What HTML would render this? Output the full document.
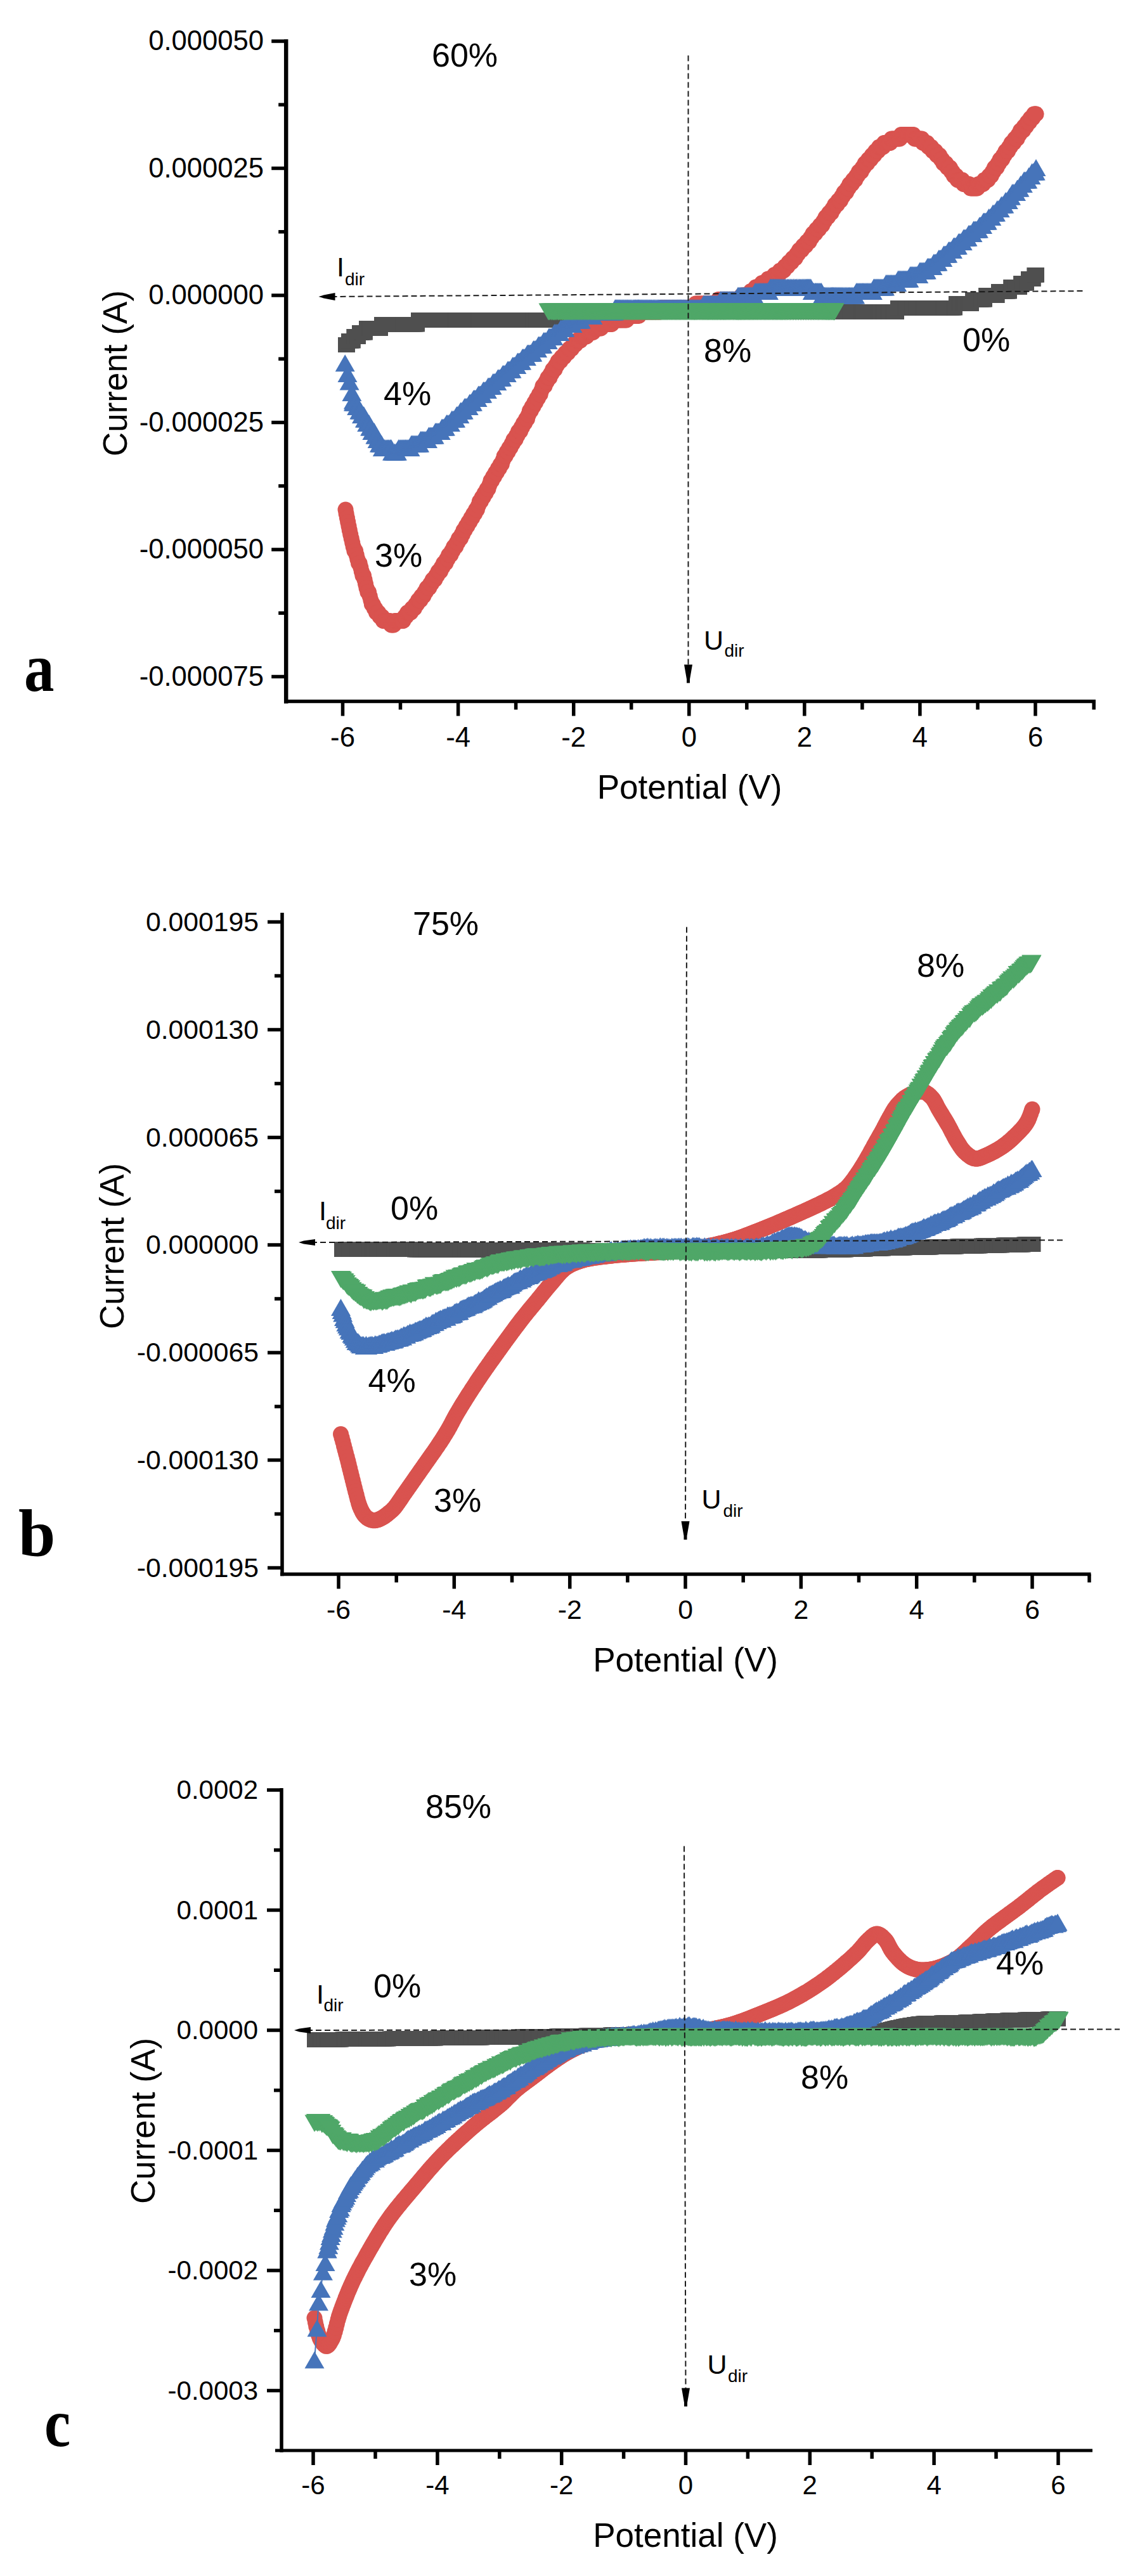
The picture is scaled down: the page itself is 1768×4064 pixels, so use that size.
<!DOCTYPE html>
<html lang="en"><head><meta charset="utf-8"><title>I-V curves</title>
<style>html,body{margin:0;padding:0;background:#fff}svg{display:block}text{fill:#000}</style></head><body>
<svg width="1768" height="4064" viewBox="0 0 1768 4064">
<defs>
<marker id="sq" markerUnits="userSpaceOnUse" markerWidth="24" markerHeight="24" refX="12" refY="12" orient="0"><rect width="24" height="24" fill="#4f4f4f"/></marker>
<marker id="ci" markerUnits="userSpaceOnUse" markerWidth="26" markerHeight="26" refX="13" refY="13" orient="0"><circle cx="13" cy="13" r="12.5" fill="#d9534f"/></marker>
<marker id="up" markerUnits="userSpaceOnUse" markerWidth="32" markerHeight="28" refX="16" refY="14" orient="0"><polygon points="16,0.5 31.5,27.5 0.5,27.5" fill="#4674ba"/></marker>
<marker id="dn" markerUnits="userSpaceOnUse" markerWidth="32" markerHeight="28" refX="16" refY="14" orient="0"><polygon points="0.5,0.5 31.5,0.5 16,27.5" fill="#4fa768"/></marker>
</defs>
<g>
<rect x="447.95" y="62" width="6.5" height="1047.75" fill="#000"/>
<rect x="448" y="1103.75" width="1280" height="5.5" fill="#000"/>
<rect x="428.2" y="62.25" width="23" height="5.5" fill="#000"/>
<text x="416" y="79.3" font-size="43.6" text-anchor="end" font-family='"Liberation Sans", sans-serif' font-weight="normal" >0.000050</text>
<rect x="428.2" y="262.75" width="23" height="5.5" fill="#000"/>
<text x="416" y="279.8" font-size="43.6" text-anchor="end" font-family='"Liberation Sans", sans-serif' font-weight="normal" >0.000025</text>
<rect x="428.2" y="463.25" width="23" height="5.5" fill="#000"/>
<text x="416" y="480.3" font-size="43.6" text-anchor="end" font-family='"Liberation Sans", sans-serif' font-weight="normal" >0.000000</text>
<rect x="428.2" y="663.75" width="23" height="5.5" fill="#000"/>
<text x="416" y="680.8" font-size="43.6" text-anchor="end" font-family='"Liberation Sans", sans-serif' font-weight="normal" >-0.000025</text>
<rect x="428.2" y="864.25" width="23" height="5.5" fill="#000"/>
<text x="416" y="881.3" font-size="43.6" text-anchor="end" font-family='"Liberation Sans", sans-serif' font-weight="normal" >-0.000050</text>
<rect x="428.2" y="1064.75" width="23" height="5.5" fill="#000"/>
<text x="416" y="1081.8" font-size="43.6" text-anchor="end" font-family='"Liberation Sans", sans-serif' font-weight="normal" >-0.000075</text>
<rect x="439.2" y="162.45" width="12" height="5.5" fill="#000"/>
<rect x="439.2" y="362.95" width="12" height="5.5" fill="#000"/>
<rect x="439.2" y="563.45" width="12" height="5.5" fill="#000"/>
<rect x="439.2" y="763.95" width="12" height="5.5" fill="#000"/>
<rect x="439.2" y="964.45" width="12" height="5.5" fill="#000"/>
<rect x="537.75" y="1106.5" width="5.5" height="23" fill="#000"/>
<text x="540.5" y="1177.5" font-size="43.6" text-anchor="middle" font-family='"Liberation Sans", sans-serif' font-weight="normal" >-6</text>
<rect x="719.85" y="1106.5" width="5.5" height="23" fill="#000"/>
<text x="722.6" y="1177.5" font-size="43.6" text-anchor="middle" font-family='"Liberation Sans", sans-serif' font-weight="normal" >-4</text>
<rect x="901.95" y="1106.5" width="5.5" height="23" fill="#000"/>
<text x="904.7" y="1177.5" font-size="43.6" text-anchor="middle" font-family='"Liberation Sans", sans-serif' font-weight="normal" >-2</text>
<rect x="1084.0" y="1106.5" width="5.5" height="23" fill="#000"/>
<text x="1086.75" y="1177.5" font-size="43.6" text-anchor="middle" font-family='"Liberation Sans", sans-serif' font-weight="normal" >0</text>
<rect x="1266.05" y="1106.5" width="5.5" height="23" fill="#000"/>
<text x="1268.8" y="1177.5" font-size="43.6" text-anchor="middle" font-family='"Liberation Sans", sans-serif' font-weight="normal" >2</text>
<rect x="1448.15" y="1106.5" width="5.5" height="23" fill="#000"/>
<text x="1450.9" y="1177.5" font-size="43.6" text-anchor="middle" font-family='"Liberation Sans", sans-serif' font-weight="normal" >4</text>
<rect x="1630.25" y="1106.5" width="5.5" height="23" fill="#000"/>
<text x="1633" y="1177.5" font-size="43.6" text-anchor="middle" font-family='"Liberation Sans", sans-serif' font-weight="normal" >6</text>
<rect x="628.75" y="1106.5" width="5.5" height="13" fill="#000"/>
<rect x="810.85" y="1106.5" width="5.5" height="13" fill="#000"/>
<rect x="992.95" y="1106.5" width="5.5" height="13" fill="#000"/>
<rect x="1175.05" y="1106.5" width="5.5" height="13" fill="#000"/>
<rect x="1357.15" y="1106.5" width="5.5" height="13" fill="#000"/>
<rect x="1539.25" y="1106.5" width="5.5" height="13" fill="#000"/>
<rect x="1722.45" y="1106.5" width="5.5" height="13" fill="#000"/>
<text x="1087.5" y="1260.0" font-size="53" text-anchor="middle" font-family='"Liberation Sans", sans-serif' font-weight="normal" >Potential (V)</text>
<text x="0" y="0" font-size="53" text-anchor="middle" font-family='"Liberation Sans", sans-serif' font-weight="normal" transform="translate(200,589) rotate(-90)">Current (A)</text>
<polyline points="544.5,544.0 546.1,544.0 548.1,544.0 549.7,537.5 551.9,537.5 553.5,537.5 555.1,537.5 556.8,537.5 558.3,531.0 560.0,531.0 561.6,531.0 563.4,531.0 565.1,531.0 566.9,524.5 568.6,524.5 570.3,524.5 572.1,524.5 573.9,524.5 575.9,524.5 578.0,518.0 579.7,518.0 581.4,518.0 583.2,518.0 585.1,518.0 587.0,518.0 588.9,518.0 591.0,518.0 593.1,518.0 595.3,518.0 597.6,518.0 600.0,518.0 601.6,511.5 603.3,511.5 605.0,511.5 606.8,511.5 608.7,511.5 610.6,511.5 612.5,511.5 614.5,511.5 616.5,511.5 618.5,511.5 620.6,511.5 622.6,511.5 624.8,511.5 626.9,511.5 629.0,511.5 631.1,511.5 633.3,511.5 635.4,511.5 637.5,511.5 639.7,511.5 641.8,511.5 643.9,511.5 645.9,511.5 648.0,511.5 650.0,511.5 652.0,511.5 654.0,511.5 656.0,511.5 658.0,511.5 660.0,505.0 662.0,505.0 664.0,505.0 666.0,505.0 668.0,505.0 670.0,505.0 672.0,505.0 674.0,505.0 676.0,505.0 678.0,505.0 680.0,505.0 682.0,505.0 684.0,505.0 686.0,505.0 688.0,505.0 690.0,505.0 692.0,505.0 694.0,505.0 696.0,505.0 698.0,505.0 700.0,505.0 702.0,505.0 703.9,505.0 705.9,505.0 707.8,505.0 709.7,505.0 711.6,505.0 713.5,505.0 715.4,505.0 717.3,505.0 719.2,505.0 721.1,505.0 723.0,505.0 724.9,505.0 726.8,505.0 728.8,505.0 730.7,505.0 732.7,505.0 734.8,505.0 736.8,505.0 738.9,505.0 741.0,505.0 743.2,505.0 745.4,505.0 747.7,505.0 750.0,505.0 751.7,505.0 753.4,505.0 755.2,505.0 757.0,505.0 758.8,505.0 760.7,505.0 762.7,505.0 764.6,505.0 766.6,505.0 768.6,505.0 770.7,505.0 772.7,505.0 774.8,505.0 777.0,505.0 779.1,505.0 781.2,505.0 783.4,505.0 785.6,505.0 787.8,505.0 790.0,505.0 792.2,505.0 794.4,505.0 796.6,505.0 798.8,505.0 801.1,505.0 803.3,505.0 805.5,505.0 807.7,505.0 809.9,505.0 812.0,505.0 814.2,505.0 816.4,505.0 818.5,505.0 820.6,505.0 822.7,505.0 824.8,505.0 826.8,505.0 828.8,505.0 830.8,505.0 832.7,505.0 834.6,505.0 836.5,505.0 838.4,505.0 840.2,505.0 841.9,505.0 843.6,505.0 845.3,505.0 846.9,505.0 848.5,505.0 850.0,505.0 852.5,505.0 854.9,505.0 857.2,505.0 859.5,505.0 861.8,505.0 863.9,505.0 866.0,505.0 868.1,505.0 870.1,505.0 872.0,505.0 873.9,505.0 875.7,505.0 877.5,505.0 879.3,505.0 881.0,505.0 882.6,505.0 884.2,505.0 886.1,505.0 888.2,505.0 890.2,498.5 892.0,498.5 893.8,498.5 895.5,498.5 897.3,498.5 899.1,498.5 901.0,498.5 902.8,498.5 904.5,492.0 906.2,492.0 908.1,492.0 910.1,492.0 912.3,492.0 915.0,492.0 916.8,492.0 918.9,492.0 921.0,492.0 922.6,492.0 924.1,492.0 925.8,492.0 927.5,492.0 929.3,492.0 931.1,492.0 932.9,492.0 934.8,492.0 936.8,492.0 938.8,492.0 940.8,492.0 942.9,492.0 945.0,492.0 947.1,492.0 949.3,492.0 951.4,492.0 953.6,492.0 955.9,492.0 958.1,492.0 960.3,492.0 962.6,492.0 964.9,492.0 967.1,492.0 969.4,492.0 971.7,492.0 974.0,492.0 976.2,492.0 978.5,492.0 980.7,492.0 983.0,492.0 985.2,492.0 987.4,492.0 989.5,492.0 991.7,492.0 993.8,492.0 995.9,492.0 998.0,492.0 1000.0,492.0 1002.0,492.0 1004.0,492.0 1006.0,492.0 1007.9,492.0 1009.9,492.0 1011.9,492.0 1013.8,492.0 1015.8,492.0 1017.8,492.0 1019.7,492.0 1021.7,492.0 1023.6,492.0 1025.6,492.0 1027.5,492.0 1029.5,492.0 1031.4,492.0 1033.4,492.0 1035.3,492.0 1037.3,492.0 1039.3,492.0 1041.2,492.0 1043.2,492.0 1045.2,492.0 1047.1,492.0 1049.1,492.0 1051.1,492.0 1053.1,492.0 1055.1,492.0 1057.1,492.0 1059.1,492.0 1061.1,492.0 1063.1,492.0 1065.2,492.0 1067.2,492.0 1069.2,492.0 1071.3,492.0 1073.4,492.0 1075.4,492.0 1077.5,492.0 1079.6,492.0 1081.7,492.0 1083.9,492.0 1086.0,492.0 1087.9,492.0 1089.7,492.0 1091.6,492.0 1093.5,492.0 1095.4,492.0 1097.3,492.0 1099.2,492.0 1101.1,492.0 1103.0,492.0 1104.9,492.0 1106.9,492.0 1108.8,492.0 1110.8,492.0 1112.7,492.0 1114.7,492.0 1116.6,492.0 1118.6,492.0 1120.6,492.0 1122.5,492.0 1124.5,492.0 1126.5,492.0 1128.5,492.0 1130.5,492.0 1132.5,492.0 1134.5,492.0 1136.5,492.0 1138.5,492.0 1140.5,492.0 1142.5,492.0 1144.6,492.0 1146.6,492.0 1148.6,492.0 1150.6,492.0 1152.7,492.0 1154.7,492.0 1156.8,492.0 1158.8,492.0 1160.9,492.0 1162.9,492.0 1164.9,492.0 1167.0,492.0 1169.1,492.0 1171.1,492.0 1173.2,492.0 1175.2,492.0 1177.3,492.0 1179.4,492.0 1181.4,492.0 1183.5,492.0 1185.5,492.0 1187.6,492.0 1189.7,492.0 1191.7,492.0 1193.8,492.0 1195.9,492.0 1197.9,492.0 1200.0,492.0 1201.9,492.0 1203.9,492.0 1205.8,492.0 1207.8,492.0 1209.7,492.0 1211.7,492.0 1213.7,492.0 1215.7,492.0 1217.7,492.0 1219.6,492.0 1221.6,492.0 1223.6,492.0 1225.6,492.0 1227.6,492.0 1229.6,492.0 1231.7,492.0 1233.7,492.0 1235.7,492.0 1237.7,492.0 1239.7,492.0 1241.8,492.0 1243.8,492.0 1245.8,492.0 1247.8,492.0 1249.9,492.0 1251.9,492.0 1253.9,492.0 1256.0,492.0 1258.0,492.0 1260.1,492.0 1262.1,492.0 1264.1,492.0 1266.2,492.0 1268.2,492.0 1270.2,492.0 1272.3,492.0 1274.3,492.0 1276.3,492.0 1278.4,492.0 1280.4,492.0 1282.4,492.0 1284.5,492.0 1286.5,492.0 1288.5,492.0 1290.5,492.0 1292.5,492.0 1294.5,492.0 1296.6,492.0 1298.6,492.0 1300.6,492.0 1302.6,492.0 1304.6,492.0 1306.5,492.0 1308.5,492.0 1310.5,492.0 1312.5,492.0 1314.5,492.0 1316.4,492.0 1318.4,492.0 1320.3,492.0 1322.3,492.0 1324.2,492.0 1326.2,492.0 1328.1,492.0 1330.0,492.0 1332.1,492.0 1334.2,492.0 1336.3,492.0 1338.4,492.0 1340.4,492.0 1342.5,492.0 1344.6,492.0 1346.7,492.0 1348.8,492.0 1350.9,492.0 1353.0,492.0 1355.1,492.0 1357.2,492.0 1359.3,492.0 1361.4,492.0 1363.5,492.0 1365.6,492.0 1367.6,492.0 1369.7,492.0 1371.8,492.0 1373.9,492.0 1375.9,492.0 1378.0,492.0 1380.1,492.0 1382.1,492.0 1384.2,492.0 1386.2,492.0 1388.2,492.0 1390.3,492.0 1392.3,492.0 1394.3,492.0 1396.3,492.0 1398.3,492.0 1400.3,492.0 1402.3,492.0 1404.3,492.0 1406.3,492.0 1408.3,492.0 1410.2,492.0 1412.2,492.0 1414.1,492.0 1416.0,485.5 1417.9,485.5 1419.8,485.5 1421.7,485.5 1423.6,485.5 1425.5,485.5 1427.3,485.5 1429.2,485.5 1431.0,485.5 1432.9,485.5 1434.7,485.5 1436.5,485.5 1438.2,485.5 1440.0,485.5 1442.2,485.5 1444.4,485.5 1446.6,485.5 1448.8,485.5 1451.0,485.5 1453.1,485.5 1455.3,485.5 1457.4,485.5 1459.5,485.5 1461.6,485.5 1463.6,485.5 1465.7,485.5 1467.7,485.5 1469.7,485.5 1471.8,485.5 1473.8,485.5 1475.7,485.5 1477.7,485.5 1479.7,485.5 1481.6,485.5 1483.6,485.5 1485.5,485.5 1487.4,485.5 1489.3,485.5 1491.2,485.5 1493.1,485.5 1495.0,485.5 1496.9,485.5 1498.8,485.5 1500.6,485.5 1502.5,485.5 1504.3,485.5 1506.2,485.5 1508.0,479.0 1510.1,479.0 1512.2,479.0 1514.3,479.0 1516.3,479.0 1518.4,479.0 1520.4,479.0 1522.4,479.0 1524.3,479.0 1526.3,479.0 1528.3,479.0 1530.2,479.0 1532.1,479.0 1534.1,472.5 1536.0,472.5 1537.9,472.5 1539.8,472.5 1541.7,472.5 1543.6,472.5 1545.5,472.5 1547.4,472.5 1549.3,472.5 1551.2,472.5 1553.2,472.5 1555.1,466.0 1557.0,466.0 1559.0,466.0 1560.9,466.0 1562.8,466.0 1564.8,466.0 1566.7,466.0 1568.7,466.0 1570.7,466.0 1572.7,466.0 1574.7,459.5 1576.7,459.5 1578.7,459.5 1580.6,459.5 1582.6,459.5 1584.6,459.5 1586.5,459.5 1588.5,459.5 1590.4,459.5 1592.3,459.5 1594.2,453.0 1596.0,453.0 1597.8,453.0 1599.6,453.0 1601.4,453.0 1603.1,453.0 1604.8,453.0 1606.4,453.0 1608.0,453.0 1610.1,446.5 1612.4,446.5 1614.7,446.5 1617.0,446.5 1619.3,446.5 1621.7,440.0 1623.9,440.0 1626.0,440.0 1628.0,440.0 1629.8,440.0 1631.4,433.5 1633.3,433.5 1634.9,433.5 1635.0,433.5" fill="none" stroke="#4f4f4f" stroke-width="2" marker-start="url(#sq)" marker-mid="url(#sq)" marker-end="url(#sq)"/>
<polyline points="545.0,804.0 546.1,810.5 547.4,817.0 548.7,823.5 550.0,830.0 551.3,836.5 552.7,843.0 554.2,849.5 555.7,856.0 557.2,862.5 558.9,869.0 560.6,869.0 562.2,875.5 563.8,882.0 565.5,888.5 567.1,888.5 568.8,895.0 570.3,901.5 571.9,908.0 573.5,908.0 575.0,914.5 576.5,921.0 578.0,927.5 579.8,934.0 581.5,934.0 583.2,940.5 584.9,947.0 586.4,953.5 588.3,953.5 590.3,960.0 591.9,960.0 593.5,966.5 595.2,966.5 597.0,966.5 599.1,973.0 601.3,973.0 602.8,973.0 604.3,979.5 605.9,979.5 607.4,979.5 609.0,979.5 610.9,979.5 612.9,979.5 614.9,979.5 616.9,986.0 619.0,986.0 621.0,986.0 623.0,979.5 625.0,979.5 627.1,979.5 629.1,979.5 631.1,979.5 632.8,979.5 634.4,979.5 635.9,979.5 638.1,973.0 640.3,973.0 642.5,966.5 644.0,966.5 645.9,966.5 647.7,966.5 649.6,960.0 651.4,960.0 653.4,960.0 655.4,953.5 657.5,953.5 659.5,947.0 661.4,947.0 663.0,947.0 664.6,940.5 666.2,940.5 667.9,940.5 669.6,934.0 671.4,934.0 673.2,927.5 675.0,927.5 676.8,927.5 678.6,921.0 680.5,921.0 682.3,914.5 684.1,914.5 685.9,914.5 687.7,908.0 689.5,908.0 691.2,901.5 692.9,901.5 694.6,901.5 696.2,895.0 697.9,895.0 699.6,888.5 701.2,888.5 702.9,888.5 704.5,882.0 706.1,882.0 707.7,875.5 709.3,875.5 710.9,875.5 712.5,869.0 714.1,869.0 715.7,862.5 717.3,862.5 718.8,862.5 720.4,856.0 721.9,856.0 723.5,849.5 725.0,849.5 726.5,849.5 728.1,843.0 729.6,843.0 731.1,836.5 733.1,836.5 735.1,830.0 737.0,830.0 739.0,823.5 740.9,823.5 742.9,817.0 744.8,817.0 746.7,810.5 748.7,810.5 750.6,804.0 752.5,804.0 754.5,797.5 756.4,791.0 758.4,791.0 760.3,784.5 762.2,784.5 764.2,778.0 766.1,778.0 768.0,771.5 769.9,771.5 771.9,765.0 773.8,758.5 775.7,758.5 777.6,752.0 779.5,752.0 781.5,745.5 783.4,745.5 785.4,739.0 787.4,739.0 789.3,732.5 791.3,732.5 793.2,726.0 795.2,719.5 797.2,719.5 799.1,713.0 801.1,713.0 803.0,706.5 805.0,706.5 807.0,700.0 808.5,700.0 810.0,693.5 811.5,693.5 813.0,693.5 814.5,687.0 816.1,687.0 817.6,680.5 819.1,680.5 820.6,680.5 822.1,674.0 823.6,674.0 825.6,667.5 827.6,667.5 829.6,661.0 831.5,661.0 833.4,654.5 835.4,648.0 837.3,648.0 839.1,641.5 841.0,641.5 842.9,635.0 844.7,635.0 846.6,628.5 848.4,628.5 850.3,622.0 852.2,622.0 854.1,615.5 856.0,609.0 857.6,609.0 859.1,609.0 860.7,602.5 862.2,602.5 863.8,596.0 865.3,596.0 866.9,596.0 868.5,589.5 870.1,589.5 871.7,583.0 873.3,583.0 875.0,583.0 876.6,576.5 878.3,576.5 880.0,570.0 881.9,570.0 883.8,570.0 885.7,563.5 887.6,563.5 889.5,563.5 891.5,557.0 893.5,557.0 895.5,557.0 897.5,550.5 899.5,550.5 901.6,550.5 903.6,544.0 905.8,544.0 907.3,544.0 908.9,537.5 910.5,537.5 912.1,537.5 913.6,537.5 915.3,537.5 916.9,531.0 918.5,531.0 920.1,531.0 921.8,531.0 923.4,531.0 925.0,531.0 926.7,524.5 928.3,524.5 930.0,524.5 931.7,524.5 933.5,524.5 935.3,524.5 937.0,518.0 938.8,518.0 940.6,518.0 942.4,518.0 944.2,518.0 946.0,518.0 947.8,518.0 949.6,511.5 951.4,511.5 953.2,511.5 955.0,511.5 956.9,511.5 958.8,511.5 960.8,511.5 962.7,511.5 964.7,511.5 966.6,505.0 968.6,505.0 970.5,505.0 972.5,505.0 974.4,505.0 976.3,505.0 978.2,505.0 980.0,505.0 982.1,505.0 984.2,505.0 986.3,505.0 988.3,505.0 990.3,498.5 992.3,498.5 994.3,498.5 996.2,498.5 998.1,498.5 1000.0,498.5 1002.0,498.5 1003.8,498.5 1005.6,498.5 1007.4,498.5 1009.2,492.0 1011.0,492.0 1012.9,492.0 1015.0,492.0 1016.7,492.0 1018.5,492.0 1020.4,492.0 1022.2,492.0 1024.1,492.0 1026.1,492.0 1028.1,492.0 1030.1,492.0 1032.2,492.0 1034.4,492.0 1036.6,492.0 1038.9,492.0 1040.9,492.0 1042.6,485.5 1044.4,485.5 1046.2,485.5 1048.1,485.5 1050.1,485.5 1052.0,485.5 1054.0,485.5 1056.0,485.5 1058.1,485.5 1060.1,485.5 1062.2,485.5 1064.3,485.5 1066.4,485.5 1068.5,485.5 1070.6,485.5 1072.7,485.5 1074.8,485.5 1076.9,485.5 1078.9,485.5 1081.0,485.5 1083.0,485.5 1085.0,485.5 1087.0,485.5 1089.0,485.5 1091.1,485.5 1093.1,485.5 1095.1,485.5 1097.1,479.0 1099.1,479.0 1101.1,479.0 1103.1,479.0 1105.1,479.0 1107.1,479.0 1109.0,479.0 1111.0,479.0 1113.0,479.0 1115.0,479.0 1117.0,479.0 1119.0,479.0 1121.0,479.0 1123.0,479.0 1125.0,479.0 1127.0,479.0 1129.0,479.0 1131.0,479.0 1133.0,472.5 1135.1,472.5 1137.1,472.5 1139.2,472.5 1141.3,472.5 1143.4,472.5 1145.5,472.5 1147.7,472.5 1149.8,472.5 1151.9,472.5 1154.0,472.5 1156.1,472.5 1158.1,472.5 1160.1,472.5 1162.1,472.5 1164.1,472.5 1166.0,472.5 1167.9,472.5 1169.8,466.0 1171.6,466.0 1173.3,466.0 1175.0,466.0 1177.0,466.0 1178.8,466.0 1180.6,466.0 1182.3,466.0 1184.0,459.5 1185.6,459.5 1187.2,459.5 1188.8,459.5 1190.3,459.5 1191.9,453.0 1193.4,453.0 1195.0,453.0 1196.6,453.0 1198.3,453.0 1200.0,453.0 1201.6,446.5 1203.2,446.5 1204.8,446.5 1206.4,446.5 1208.1,446.5 1209.7,446.5 1211.3,440.0 1213.0,440.0 1214.7,440.0 1216.3,440.0 1218.0,440.0 1219.7,440.0 1221.4,433.5 1223.1,433.5 1224.8,433.5 1226.5,433.5 1228.3,433.5 1230.0,427.0 1231.9,427.0 1233.9,427.0 1235.9,427.0 1237.8,420.5 1239.9,420.5 1241.9,420.5 1243.9,414.0 1246.0,414.0 1248.1,414.0 1250.1,407.5 1252.2,407.5 1254.3,407.5 1256.3,401.0 1258.4,401.0 1260.5,394.5 1262.5,394.5 1264.5,394.5 1266.5,388.0 1268.5,388.0 1270.5,388.0 1272.4,381.5 1274.4,381.5 1276.3,381.5 1278.2,375.0 1280.1,375.0 1282.0,368.5 1283.9,368.5 1285.8,368.5 1287.6,362.0 1289.5,362.0 1291.3,362.0 1293.2,355.5 1295.0,355.5 1296.8,355.5 1298.6,349.0 1300.4,349.0 1302.2,342.5 1304.0,342.5 1305.7,342.5 1307.5,336.0 1309.3,336.0 1311.1,336.0 1312.9,329.5 1314.7,329.5 1316.6,323.0 1318.4,323.0 1320.2,323.0 1322.0,316.5 1323.8,316.5 1325.6,316.5 1327.4,310.0 1329.2,310.0 1331.0,303.5 1332.8,303.5 1334.6,303.5 1336.4,297.0 1338.2,297.0 1339.9,290.5 1341.7,290.5 1343.5,290.5 1345.3,284.0 1347.0,284.0 1348.8,284.0 1350.6,277.5 1352.5,277.5 1354.4,271.0 1356.3,271.0 1358.2,271.0 1360.1,264.5 1362.0,264.5 1363.9,258.0 1365.8,258.0 1367.7,258.0 1369.5,251.5 1371.4,251.5 1373.3,251.5 1375.1,245.0 1376.9,245.0 1378.8,245.0 1380.6,238.5 1382.4,238.5 1384.7,238.5 1386.3,232.0 1387.9,232.0 1389.5,232.0 1391.1,232.0 1392.7,232.0 1394.3,225.5 1395.9,225.5 1397.5,225.5 1399.1,225.5 1400.7,225.5 1402.4,225.5 1404.1,225.5 1405.9,219.0 1407.7,219.0 1409.6,219.0 1411.5,219.0 1413.4,219.0 1415.3,219.0 1417.3,219.0 1419.2,219.0 1421.2,212.5 1423.2,212.5 1425.1,212.5 1427.1,212.5 1429.0,212.5 1431.0,212.5 1432.9,212.5 1434.8,212.5 1436.7,212.5 1438.7,212.5 1440.6,212.5 1442.5,219.0 1444.4,219.0 1446.4,219.0 1448.3,219.0 1450.2,219.0 1452.1,219.0 1454.0,219.0 1455.7,225.5 1457.9,225.5 1460.1,225.5 1462.3,225.5 1464.5,232.0 1466.7,232.0 1468.9,232.0 1471.1,238.5 1473.2,238.5 1475.4,238.5 1477.6,245.0 1479.7,245.0 1481.8,245.0 1483.9,251.5 1486.0,251.5 1488.0,258.0 1490.1,258.0 1492.2,258.0 1494.3,264.5 1496.4,264.5 1498.4,264.5 1500.4,271.0 1502.4,271.0 1504.4,277.5 1506.4,277.5 1508.3,277.5 1510.3,284.0 1512.3,284.0 1514.3,284.0 1515.9,284.0 1517.7,284.0 1519.6,290.5 1521.4,290.5 1523.2,290.5 1525.0,290.5 1526.8,290.5 1528.6,290.5 1530.5,297.0 1532.3,297.0 1534.1,297.0 1535.9,297.0 1537.7,297.0 1539.6,297.0 1541.4,297.0 1543.2,290.5 1545.1,290.5 1546.9,290.5 1548.7,290.5 1550.5,290.5 1552.3,284.0 1554.1,284.0 1556.2,284.0 1558.0,284.0 1559.8,277.5 1561.5,277.5 1563.3,277.5 1565.1,271.0 1566.8,271.0 1568.5,264.5 1570.3,264.5 1572.0,264.5 1573.7,258.0 1575.5,258.0 1577.2,251.5 1578.9,251.5 1580.7,251.5 1582.4,245.0 1584.2,245.0 1586.0,238.5 1587.8,238.5 1589.6,238.5 1591.4,232.0 1593.3,232.0 1595.1,225.5 1596.9,225.5 1598.7,225.5 1600.5,219.0 1602.3,219.0 1604.1,219.0 1605.9,212.5 1607.6,212.5 1609.4,206.0 1611.3,206.0 1613.6,206.0 1615.1,199.5 1616.8,199.5 1618.4,199.5 1620.1,193.0 1621.8,193.0 1623.4,193.0 1625.1,186.5 1626.6,186.5 1628.7,186.5 1630.6,180.0 1632.1,180.0 1633.7,180.0 1634.0,180.0" fill="none" stroke="#d9534f" stroke-width="2" marker-start="url(#ci)" marker-mid="url(#ci)" marker-end="url(#ci)"/>
<polyline points="544.2,572.8 548.0,589.6 551.1,602.1 554.9,619.6 557.4,632.1" fill="none" stroke="#4674ba" stroke-width="2" marker-start="url(#up)" marker-mid="url(#up)" marker-end="url(#up)"/>
<polyline points="557.4,635.0 558.9,635.0 560.6,635.0 562.6,641.5 564.8,641.5 566.9,648.0 568.8,648.0 570.5,654.5 572.1,654.5 573.8,654.5 575.4,661.0 577.0,661.0 578.7,667.5 580.3,667.5 581.9,667.5 583.6,674.0 585.2,674.0 586.9,680.5 588.6,680.5 590.2,680.5 591.9,687.0 593.5,687.0 595.1,693.5 596.8,693.5 598.4,700.0 600.1,700.0 601.7,700.0 603.3,706.5 605.0,706.5 606.6,706.5 608.8,706.5 611.0,706.5 613.1,706.5 615.3,706.5 617.0,706.5 618.5,713.0 620.3,713.0 622.6,713.0 624.7,713.0 626.4,713.0 628.7,706.5 630.9,706.5 633.0,706.5 635.1,706.5 637.1,706.5 639.1,706.5 640.9,706.5 642.9,706.5 644.9,706.5 647.0,706.5 648.9,700.0 650.6,700.0 652.4,700.0 654.2,700.0 656.1,700.0 658.0,700.0 660.0,700.0 661.6,700.0 663.4,693.5 665.1,693.5 666.9,693.5 668.8,693.5 670.7,693.5 672.6,693.5 674.5,693.5 676.3,687.0 678.2,687.0 680.0,687.0 681.7,687.0 683.4,687.0 685.1,687.0 686.7,680.5 688.3,680.5 690.0,680.5 691.7,680.5 693.4,680.5 695.2,680.5 697.0,674.0 699.0,674.0 700.6,674.0 702.4,674.0 704.4,667.5 706.3,667.5 708.4,667.5 710.5,667.5 712.7,661.0 714.9,661.0 717.1,661.0 718.6,661.0 720.2,654.5 721.7,654.5 723.3,654.5 724.9,654.5 726.4,648.0 728.0,648.0 729.6,648.0 731.2,648.0 732.8,641.5 734.4,641.5 736.0,641.5 737.6,641.5 739.2,641.5 740.7,635.0 742.3,635.0 743.9,635.0 745.4,635.0 747.0,628.5 748.5,628.5 750.0,628.5 751.5,628.5 753.1,628.5 754.6,622.0 756.1,622.0 757.7,622.0 759.2,622.0 760.7,622.0 762.3,615.5 763.8,615.5 765.3,615.5 766.9,615.5 768.4,615.5 769.9,609.0 771.5,609.0 773.0,609.0 774.5,609.0 776.1,609.0 777.6,602.5 779.2,602.5 780.7,602.5 782.2,602.5 783.8,602.5 785.3,596.0 786.9,596.0 788.4,596.0 789.9,596.0 791.5,596.0 793.0,589.5 794.6,589.5 796.1,589.5 797.7,589.5 799.2,589.5 800.8,583.0 802.3,583.0 803.9,583.0 805.4,583.0 807.0,583.0 808.5,576.5 810.1,576.5 811.6,576.5 813.2,576.5 814.8,576.5 816.3,570.0 817.9,570.0 819.4,570.0 821.0,570.0 822.6,570.0 824.1,563.5 825.7,563.5 827.2,563.5 828.8,563.5 830.4,563.5 831.9,557.0 833.5,557.0 835.1,557.0 836.6,557.0 838.2,557.0 839.8,557.0 841.3,550.5 842.9,550.5 844.5,550.5 846.1,550.5 847.6,550.5 849.2,544.0 850.8,544.0 852.4,544.0 854.1,544.0 855.8,544.0 857.4,537.5 859.1,537.5 860.8,537.5 862.5,537.5 864.2,537.5 865.8,531.0 867.5,531.0 869.2,531.0 870.9,531.0 872.6,531.0 874.3,524.5 876.0,524.5 877.7,524.5 879.4,524.5 881.0,524.5 882.7,524.5 884.3,518.0 886.0,518.0 887.6,518.0 889.2,518.0 890.8,518.0 892.4,511.5 893.9,511.5 895.5,511.5 897.0,511.5 898.5,511.5 901.0,511.5 903.0,511.5 905.0,505.0 906.9,505.0 908.8,505.0 910.7,505.0 912.5,505.0 914.4,505.0 916.2,505.0 918.0,498.5 919.8,498.5 921.6,498.5 923.5,498.5 925.3,498.5 927.2,498.5 929.1,498.5 931.0,498.5 932.9,498.5 934.9,498.5 936.8,492.0 938.8,492.0 940.7,492.0 942.7,492.0 944.7,492.0 946.6,492.0 948.6,492.0 950.6,492.0 952.7,492.0 954.7,492.0 956.8,492.0 958.9,492.0 960.9,492.0 962.8,492.0 964.6,492.0 966.5,492.0 968.3,492.0 970.2,485.5 972.1,485.5 973.9,485.5 975.9,485.5 977.8,485.5 979.7,485.5 981.7,485.5 983.7,485.5 985.8,485.5 987.8,485.5 989.9,485.5 992.1,485.5 994.3,485.5 996.5,485.5 998.8,485.5 1000.8,485.5 1002.5,485.5 1004.3,485.5 1006.1,485.5 1007.9,485.5 1009.8,485.5 1011.7,485.5 1013.7,485.5 1015.7,485.5 1017.7,485.5 1019.7,485.5 1021.8,485.5 1023.9,485.5 1026.0,485.5 1028.1,485.5 1030.3,485.5 1032.4,485.5 1034.6,485.5 1036.8,485.5 1038.9,485.5 1041.1,485.5 1043.3,485.5 1045.4,485.5 1047.6,485.5 1049.8,485.5 1051.9,485.5 1054.0,485.5 1056.1,485.5 1058.2,485.5 1060.3,485.5 1062.3,485.5 1064.3,485.5 1066.3,485.5 1068.3,485.5 1070.2,485.5 1072.1,485.5 1073.9,485.5 1075.7,485.5 1077.5,485.5 1079.2,485.5 1081.2,485.5 1083.5,485.5 1085.7,485.5 1087.9,485.5 1090.1,485.5 1092.2,485.5 1094.3,485.5 1096.3,485.5 1098.3,485.5 1100.3,485.5 1102.2,485.5 1104.2,485.5 1106.1,485.5 1108.0,485.5 1109.8,479.0 1111.7,479.0 1113.5,479.0 1115.4,479.0 1117.2,479.0 1119.1,479.0 1121.0,479.0 1123.1,479.0 1125.1,479.0 1127.0,479.0 1128.9,479.0 1130.8,479.0 1132.7,479.0 1134.5,479.0 1136.4,472.5 1138.3,472.5 1140.2,472.5 1142.1,472.5 1144.0,472.5 1145.9,472.5 1147.9,472.5 1150.0,472.5 1151.8,472.5 1153.8,472.5 1155.7,472.5 1157.7,472.5 1159.8,472.5 1161.9,472.5 1164.0,466.0 1166.1,466.0 1168.2,466.0 1170.3,466.0 1172.4,466.0 1174.5,466.0 1176.5,466.0 1178.5,466.0 1180.5,466.0 1182.4,466.0 1184.2,466.0 1186.0,466.0 1187.7,466.0 1189.2,466.0 1191.2,459.5 1193.5,459.5 1195.7,459.5 1197.7,459.5 1199.6,459.5 1201.4,459.5 1203.2,459.5 1205.0,459.5 1207.0,459.5 1208.7,459.5 1210.4,459.5 1212.4,459.5 1215.0,453.0 1216.9,453.0 1219.0,453.0 1220.6,453.0 1222.4,453.0 1224.2,453.0 1226.2,453.0 1228.2,453.0 1230.3,453.0 1232.5,453.0 1234.8,453.0 1237.1,453.0 1239.4,453.0 1241.8,453.0 1244.2,453.0 1246.6,453.0 1249.0,453.0 1251.5,453.0 1253.9,453.0 1256.2,453.0 1258.6,453.0 1260.9,453.0 1263.1,453.0 1265.3,453.0 1267.4,453.0 1269.5,453.0 1271.4,453.0 1273.2,453.0 1275.0,453.0 1276.6,453.0 1278.7,453.0 1281.3,459.5 1283.4,459.5 1285.3,459.5 1286.9,459.5 1288.5,459.5 1290.1,459.5 1292.0,459.5 1293.7,459.5 1295.4,459.5 1297.1,466.0 1298.8,466.0 1300.6,466.0 1302.5,466.0 1304.5,466.0 1306.6,466.0 1308.8,466.0 1310.8,466.0 1312.3,466.0 1314.0,466.0 1315.7,466.0 1317.5,466.0 1319.4,466.0 1321.3,466.0 1323.2,466.0 1325.2,466.0 1327.3,466.0 1329.3,466.0 1331.4,466.0 1333.6,466.0 1335.7,466.0 1337.9,466.0 1340.0,466.0 1342.2,466.0 1344.3,466.0 1346.5,466.0 1348.6,466.0 1350.8,459.5 1352.9,459.5 1355.0,459.5 1357.0,459.5 1359.0,459.5 1360.9,459.5 1362.8,459.5 1364.7,459.5 1366.7,459.5 1368.6,459.5 1370.5,459.5 1372.4,459.5 1374.4,459.5 1376.3,459.5 1378.2,453.0 1380.1,453.0 1382.1,453.0 1384.0,453.0 1385.9,453.0 1387.9,453.0 1389.8,453.0 1391.7,453.0 1393.6,453.0 1395.5,453.0 1397.5,446.5 1399.4,446.5 1401.3,446.5 1403.2,446.5 1405.1,446.5 1407.0,446.5 1409.0,446.5 1410.9,446.5 1412.8,446.5 1414.7,446.5 1416.6,440.0 1418.5,440.0 1420.4,440.0 1422.3,440.0 1424.2,440.0 1426.1,440.0 1428.0,440.0 1430.0,440.0 1431.9,440.0 1433.8,440.0 1435.7,433.5 1437.6,433.5 1439.4,433.5 1441.3,433.5 1443.2,433.5 1445.1,433.5 1446.9,433.5 1448.8,433.5 1450.7,427.0 1452.5,427.0 1454.3,427.0 1456.2,427.0 1458.0,427.0 1459.7,427.0 1461.3,427.0 1462.9,420.5 1464.6,420.5 1466.2,420.5 1467.8,420.5 1469.4,420.5 1471.0,420.5 1472.6,414.0 1474.2,414.0 1475.8,414.0 1477.4,414.0 1479.0,414.0 1480.6,407.5 1482.1,407.5 1483.7,407.5 1485.3,407.5 1486.8,407.5 1488.4,401.0 1490.0,401.0 1491.5,401.0 1493.1,401.0 1494.7,401.0 1496.2,394.5 1497.8,394.5 1499.4,394.5 1500.9,394.5 1502.5,394.5 1504.1,388.0 1505.6,388.0 1507.2,388.0 1508.8,388.0 1510.4,388.0 1511.9,381.5 1513.5,381.5 1515.1,381.5 1516.7,381.5 1518.2,381.5 1519.8,375.0 1521.4,375.0 1523.0,375.0 1524.5,375.0 1526.1,375.0 1527.7,368.5 1529.3,368.5 1530.8,368.5 1532.4,368.5 1534.0,368.5 1535.5,362.0 1537.1,362.0 1538.7,362.0 1540.2,362.0 1541.8,362.0 1543.4,362.0 1544.9,355.5 1546.5,355.5 1548.0,355.5 1549.6,355.5 1551.1,349.0 1552.6,349.0 1554.2,349.0 1555.7,349.0 1557.2,349.0 1559.5,342.5 1561.6,342.5 1563.8,342.5 1566.1,336.0 1568.3,336.0 1570.5,336.0 1572.8,329.5 1575.0,329.5 1577.2,329.5 1579.4,323.0 1581.6,323.0 1583.8,323.0 1586.0,316.5 1588.2,316.5 1590.3,316.5 1592.4,310.0 1594.5,310.0 1596.6,303.5 1598.6,303.5 1600.5,303.5 1602.5,303.5 1604.4,297.0 1606.2,297.0 1608.0,297.0 1609.7,290.5 1611.5,290.5 1613.3,290.5 1615.1,284.0 1617.0,284.0 1618.9,284.0 1620.8,284.0 1622.6,277.5 1624.4,277.5 1626.0,277.5 1627.6,271.0 1629.7,271.0 1631.5,271.0 1633.2,271.0 1634.0,264.5" fill="none" stroke="#4674ba" stroke-width="2" marker-start="url(#up)" marker-mid="url(#up)" marker-end="url(#up)"/>
<polyline points="865.0,492.0 867.0,492.0 869.6,492.0 872.0,492.0 873.8,492.0 875.5,492.0 877.4,492.0 880.0,492.0 881.7,492.0 883.7,492.0 886.0,492.0 887.6,492.0 889.3,492.0 891.1,492.0 892.9,492.0 894.9,492.0 896.9,492.0 898.9,492.0 901.0,492.0 903.2,492.0 905.4,492.0 907.6,492.0 909.9,492.0 912.2,492.0 914.5,492.0 916.8,492.0 919.1,492.0 921.4,492.0 923.7,492.0 926.0,492.0 928.2,492.0 930.5,492.0 932.7,492.0 934.8,492.0 936.9,492.0 939.0,492.0 941.0,492.0 943.0,492.0 945.0,492.0 947.0,492.0 949.1,492.0 951.1,492.0 953.1,492.0 955.1,492.0 957.2,492.0 959.2,492.0 961.2,492.0 963.2,492.0 965.3,492.0 967.3,492.0 969.3,492.0 971.4,492.0 973.4,492.0 975.4,492.0 977.4,492.0 979.4,492.0 981.4,492.0 983.4,492.0 985.4,492.0 987.4,492.0 989.3,492.0 991.3,492.0 993.2,492.0 995.2,492.0 997.1,492.0 999.0,492.0 1001.0,492.0 1003.1,492.0 1005.2,492.0 1007.2,492.0 1009.3,492.0 1011.3,492.0 1013.3,492.0 1015.3,492.0 1017.3,492.0 1019.3,492.0 1021.3,492.0 1023.3,492.0 1025.3,492.0 1027.3,492.0 1029.2,492.0 1031.2,492.0 1033.2,492.0 1035.1,492.0 1037.1,492.0 1039.1,492.0 1041.1,492.0 1043.0,492.0 1045.0,492.0 1047.0,492.0 1049.0,492.0 1051.0,492.0 1053.0,492.0 1055.1,492.0 1057.1,492.0 1059.2,492.0 1061.2,492.0 1063.3,492.0 1065.4,492.0 1067.5,492.0 1069.6,492.0 1071.7,492.0 1073.7,492.0 1075.8,492.0 1077.9,492.0 1079.9,492.0 1081.9,492.0 1083.9,492.0 1085.9,492.0 1087.9,492.0 1089.9,492.0 1091.8,492.0 1093.7,492.0 1095.5,492.0 1097.3,492.0 1099.1,492.0 1101.1,492.0 1103.3,492.0 1105.4,492.0 1107.5,492.0 1109.6,492.0 1111.6,492.0 1113.5,492.0 1115.5,492.0 1117.4,492.0 1119.3,492.0 1121.2,492.0 1123.2,492.0 1125.1,492.0 1127.0,492.0 1129.0,492.0 1131.0,492.0 1132.9,492.0 1134.9,492.0 1136.7,492.0 1138.6,492.0 1140.5,492.0 1142.3,492.0 1144.2,492.0 1146.1,492.0 1148.1,492.0 1150.1,492.0 1152.1,492.0 1154.3,492.0 1156.5,492.0 1158.8,492.0 1160.8,492.0 1162.4,492.0 1164.1,492.0 1165.8,492.0 1167.5,492.0 1169.3,492.0 1171.1,492.0 1172.9,492.0 1174.8,492.0 1176.7,492.0 1178.6,492.0 1180.6,492.0 1182.5,492.0 1184.5,492.0 1186.6,492.0 1188.6,492.0 1190.7,492.0 1192.7,492.0 1194.8,492.0 1196.9,492.0 1199.0,492.0 1201.1,492.0 1203.3,492.0 1205.4,492.0 1207.6,492.0 1209.7,492.0 1211.8,492.0 1214.0,492.0 1216.1,492.0 1218.3,492.0 1220.4,492.0 1222.6,492.0 1224.7,492.0 1226.8,492.0 1228.9,492.0 1231.0,492.0 1233.0,492.0 1235.0,492.0 1237.2,492.0 1239.5,492.0 1241.8,492.0 1244.2,492.0 1246.6,492.0 1249.1,492.0 1251.7,492.0 1254.3,492.0 1256.9,492.0 1259.5,492.0 1262.2,492.0 1264.8,492.0 1267.5,492.0 1270.2,492.0 1272.8,492.0 1275.5,492.0 1278.1,492.0 1280.6,492.0 1283.2,492.0 1285.7,492.0 1288.2,492.0 1290.5,492.0 1292.9,492.0 1295.1,492.0 1297.3,492.0 1299.4,492.0 1301.4,492.0 1303.3,492.0 1305.1,492.0 1306.8,492.0 1308.4,492.0 1310.5,492.0 1312.3,492.0 1314.2,492.0 1315.8,492.0 1316.0,492.0" fill="none" stroke="#4fa768" stroke-width="2" marker-start="url(#dn)" marker-mid="url(#dn)" marker-end="url(#dn)"/>
<line x1="1085.5" y1="87.5" x2="1085.5" y2="1057.5" stroke="#1a1a1a" stroke-width="2" stroke-dasharray="9 5"/>
<polygon points="1079.0,1048.5 1092.0,1048.5 1088.0,1071.5 1088.0,1077.5 1083.0,1077.5 1083.0,1071.5" fill="#000"/>
<line x1="522.5" y1="468" x2="1711" y2="459" stroke="#1a1a1a" stroke-width="2" stroke-dasharray="9 5"/>
<polygon points="502.5,468 510.5,465.5 528.5,462 528.5,474 510.5,470.5" fill="#000"/>
<text x="681.0" y="104.5" font-size="52" text-anchor="start" font-family='"Liberation Sans", sans-serif' font-weight="normal" >60%</text>
<text x="605.0" y="638.5" font-size="52" text-anchor="start" font-family='"Liberation Sans", sans-serif' font-weight="normal" >4%</text>
<text x="591.0" y="893.5" font-size="52" text-anchor="start" font-family='"Liberation Sans", sans-serif' font-weight="normal" >3%</text>
<text x="1110.0" y="571.0" font-size="52" text-anchor="start" font-family='"Liberation Sans", sans-serif' font-weight="normal" >8%</text>
<text x="1518.0" y="553.5" font-size="52" text-anchor="start" font-family='"Liberation Sans", sans-serif' font-weight="normal" >0%</text>
<text x="531" y="436" font-size="43" text-anchor="start" font-family='"Liberation Sans", sans-serif' font-weight="normal" >I</text><text x="544" y="449.5" font-size="28" text-anchor="start" font-family='"Liberation Sans", sans-serif' font-weight="normal" >dir</text>
<text x="1110" y="1025" font-size="43" text-anchor="start" font-family='"Liberation Sans", sans-serif' font-weight="normal" >U</text><text x="1142.5" y="1035.5" font-size="28" text-anchor="start" font-family='"Liberation Sans", sans-serif' font-weight="normal" >dir</text>
<text x="0" y="0" font-size="108" text-anchor="start" font-family='"Liberation Serif", serif' font-weight="bold" transform="translate(38,1090) scale(0.88,1)">a</text>
</g>
<g>
<rect x="442.25" y="1440" width="5.5" height="1046.25" fill="#000"/>
<rect x="442" y="2480.75" width="1278.5" height="5.5" fill="#000"/>
<rect x="422" y="1451.75" width="23" height="5.5" fill="#000"/>
<text x="408" y="1468.8" font-size="42.7" text-anchor="end" font-family='"Liberation Sans", sans-serif' font-weight="normal" >0.000195</text>
<rect x="422" y="1621.75" width="23" height="5.5" fill="#000"/>
<text x="408" y="1638.8" font-size="42.7" text-anchor="end" font-family='"Liberation Sans", sans-serif' font-weight="normal" >0.000130</text>
<rect x="422" y="1791.75" width="23" height="5.5" fill="#000"/>
<text x="408" y="1808.8" font-size="42.7" text-anchor="end" font-family='"Liberation Sans", sans-serif' font-weight="normal" >0.000065</text>
<rect x="422" y="1961.25" width="23" height="5.5" fill="#000"/>
<text x="408" y="1978.3" font-size="42.7" text-anchor="end" font-family='"Liberation Sans", sans-serif' font-weight="normal" >0.000000</text>
<rect x="422" y="2131.25" width="23" height="5.5" fill="#000"/>
<text x="408" y="2148.3" font-size="42.7" text-anchor="end" font-family='"Liberation Sans", sans-serif' font-weight="normal" >-0.000065</text>
<rect x="422" y="2300.75" width="23" height="5.5" fill="#000"/>
<text x="408" y="2317.8" font-size="42.7" text-anchor="end" font-family='"Liberation Sans", sans-serif' font-weight="normal" >-0.000130</text>
<rect x="422" y="2470.75" width="23" height="5.5" fill="#000"/>
<text x="408" y="2487.8" font-size="42.7" text-anchor="end" font-family='"Liberation Sans", sans-serif' font-weight="normal" >-0.000195</text>
<rect x="433" y="1536.75" width="12" height="5.5" fill="#000"/>
<rect x="433" y="1706.75" width="12" height="5.5" fill="#000"/>
<rect x="433" y="1876.75" width="12" height="5.5" fill="#000"/>
<rect x="433" y="2046.25" width="12" height="5.5" fill="#000"/>
<rect x="433" y="2216.25" width="12" height="5.5" fill="#000"/>
<rect x="433" y="2385.75" width="12" height="5.5" fill="#000"/>
<rect x="531.25" y="2483.5" width="5.5" height="23" fill="#000"/>
<text x="534" y="2554.0" font-size="42.7" text-anchor="middle" font-family='"Liberation Sans", sans-serif' font-weight="normal" >-6</text>
<rect x="713.55" y="2483.5" width="5.5" height="23" fill="#000"/>
<text x="716.3" y="2554.0" font-size="42.7" text-anchor="middle" font-family='"Liberation Sans", sans-serif' font-weight="normal" >-4</text>
<rect x="895.95" y="2483.5" width="5.5" height="23" fill="#000"/>
<text x="898.7" y="2554.0" font-size="42.7" text-anchor="middle" font-family='"Liberation Sans", sans-serif' font-weight="normal" >-2</text>
<rect x="1078.25" y="2483.5" width="5.5" height="23" fill="#000"/>
<text x="1081" y="2554.0" font-size="42.7" text-anchor="middle" font-family='"Liberation Sans", sans-serif' font-weight="normal" >0</text>
<rect x="1260.55" y="2483.5" width="5.5" height="23" fill="#000"/>
<text x="1263.3" y="2554.0" font-size="42.7" text-anchor="middle" font-family='"Liberation Sans", sans-serif' font-weight="normal" >2</text>
<rect x="1442.95" y="2483.5" width="5.5" height="23" fill="#000"/>
<text x="1445.7" y="2554.0" font-size="42.7" text-anchor="middle" font-family='"Liberation Sans", sans-serif' font-weight="normal" >4</text>
<rect x="1625.25" y="2483.5" width="5.5" height="23" fill="#000"/>
<text x="1628" y="2554.0" font-size="42.7" text-anchor="middle" font-family='"Liberation Sans", sans-serif' font-weight="normal" >6</text>
<rect x="622.45" y="2483.5" width="5.5" height="13" fill="#000"/>
<rect x="804.75" y="2483.5" width="5.5" height="13" fill="#000"/>
<rect x="987.05" y="2483.5" width="5.5" height="13" fill="#000"/>
<rect x="1169.45" y="2483.5" width="5.5" height="13" fill="#000"/>
<rect x="1351.75" y="2483.5" width="5.5" height="13" fill="#000"/>
<rect x="1534.05" y="2483.5" width="5.5" height="13" fill="#000"/>
<rect x="1715.25" y="2483.5" width="5.5" height="13" fill="#000"/>
<text x="1081" y="2637.3" font-size="53" text-anchor="middle" font-family='"Liberation Sans", sans-serif' font-weight="normal" >Potential (V)</text>
<text x="0" y="0" font-size="53" text-anchor="middle" font-family='"Liberation Sans", sans-serif' font-weight="normal" transform="translate(195,1966) rotate(-90)">Current (A)</text>
<polyline points="538.5,1971.0 540.2,1971.0 541.7,1971.0 543.4,1971.0 544.9,1971.0 546.7,1971.0 548.6,1971.0 550.2,1971.0 551.9,1971.1 553.7,1971.1 555.6,1971.1 557.6,1971.1 559.7,1971.1 561.9,1971.1 563.4,1971.1 564.9,1971.1 566.5,1971.1 568.1,1971.1 569.8,1971.1 571.5,1971.1 573.2,1971.1 575.0,1971.1 576.8,1971.2 578.6,1971.2 580.5,1971.2 582.4,1971.2 584.3,1971.2 586.3,1971.2 588.3,1971.2 590.3,1971.2 592.3,1971.2 594.4,1971.2 596.5,1971.2 598.7,1971.2 600.8,1971.2 603.0,1971.3 605.3,1971.3 607.5,1971.3 609.8,1971.3 612.0,1971.3 614.4,1971.3 616.7,1971.3 619.0,1971.3 621.4,1971.3 623.8,1971.3 626.2,1971.3 628.7,1971.4 631.1,1971.4 633.6,1971.4 636.1,1971.4 638.6,1971.4 641.1,1971.4 643.6,1971.4 646.1,1971.4 648.7,1971.4 651.3,1971.4 653.9,1971.5 656.4,1971.5 659.0,1971.5 661.7,1971.5 664.3,1971.5 666.9,1971.5 669.5,1971.5 672.2,1971.5 674.8,1971.5 677.5,1971.5 680.1,1971.6 682.8,1971.6 685.5,1971.6 688.1,1971.6 690.8,1971.6 693.5,1971.6 696.1,1971.6 698.8,1971.6 701.5,1971.6 704.2,1971.6 706.8,1971.7 709.5,1971.7 712.2,1971.7 714.8,1971.7 717.5,1971.7 720.1,1971.7 722.8,1971.7 725.4,1971.7 728.0,1971.7 730.6,1971.7 733.2,1971.8 735.9,1971.8 738.4,1971.8 741.0,1971.8 743.6,1971.8 746.1,1971.8 748.7,1971.8 751.2,1971.8 753.7,1971.8 756.2,1971.8 758.7,1971.8 761.2,1971.9 763.6,1971.9 766.1,1971.9 768.5,1971.9 770.9,1971.9 773.3,1971.9 775.6,1971.9 778.0,1971.9 780.3,1971.9 782.6,1971.9 784.8,1971.9 787.1,1972.0 789.3,1972.0 791.5,1972.0 793.7,1972.0 795.8,1972.0 797.9,1972.0 800.0,1972.0 801.9,1972.0 803.9,1972.0 805.8,1972.0 807.8,1972.0 809.7,1972.0 811.7,1972.0 813.7,1972.0 815.6,1972.1 817.6,1972.1 819.6,1972.1 821.6,1972.1 823.6,1972.1 825.6,1972.1 827.6,1972.1 829.6,1972.1 831.6,1972.1 833.6,1972.1 835.6,1972.1 837.7,1972.1 839.7,1972.1 841.7,1972.2 843.8,1972.2 845.8,1972.2 847.9,1972.2 849.9,1972.2 852.0,1972.2 854.0,1972.2 856.1,1972.2 858.1,1972.2 860.2,1972.2 862.3,1972.2 864.3,1972.2 866.4,1972.2 868.5,1972.3 870.6,1972.3 872.7,1972.3 874.7,1972.3 876.8,1972.3 878.9,1972.3 881.0,1972.3 883.1,1972.3 885.2,1972.3 887.3,1972.3 889.4,1972.3 891.5,1972.3 893.6,1972.3 895.7,1972.4 897.8,1972.4 899.9,1972.4 902.0,1972.4 904.1,1972.4 906.2,1972.4 908.3,1972.4 910.4,1972.4 912.5,1972.4 914.7,1972.4 916.8,1972.4 918.9,1972.4 921.0,1972.5 923.1,1972.5 925.2,1972.5 927.3,1972.5 929.4,1972.5 931.5,1972.5 933.6,1972.5 935.7,1972.5 937.9,1972.5 940.0,1972.5 942.1,1972.5 944.2,1972.5 946.3,1972.5 948.4,1972.6 950.5,1972.6 952.6,1972.6 954.7,1972.6 956.8,1972.6 958.9,1972.6 961.0,1972.6 963.0,1972.6 965.1,1972.6 967.2,1972.6 969.3,1972.6 971.4,1972.6 973.5,1972.6 975.5,1972.7 977.6,1972.7 979.7,1972.7 981.8,1972.7 983.8,1972.7 985.9,1972.7 987.9,1972.7 990.0,1972.7 992.0,1972.7 994.1,1972.7 996.1,1972.7 998.2,1972.7 1000.2,1972.7 1002.2,1972.7 1004.3,1972.7 1006.3,1972.8 1008.3,1972.8 1010.3,1972.8 1012.4,1972.8 1014.4,1972.8 1016.4,1972.8 1018.4,1972.8 1020.4,1972.8 1022.3,1972.8 1024.3,1972.8 1026.3,1972.8 1028.3,1972.8 1030.2,1972.8 1032.2,1972.8 1034.2,1972.8 1036.1,1972.8 1038.1,1972.9 1040.0,1972.9 1041.9,1972.9 1043.9,1972.9 1045.8,1972.9 1047.7,1972.9 1049.6,1972.9 1051.5,1972.9 1053.4,1972.9 1055.3,1972.9 1057.2,1972.9 1059.0,1972.9 1060.9,1972.9 1062.8,1972.9 1064.6,1972.9 1066.5,1972.9 1068.3,1972.9 1070.1,1972.9 1072.0,1972.9 1073.8,1972.9 1075.6,1973.0 1077.4,1973.0 1079.2,1973.0 1081.0,1973.0 1082.7,1973.0 1084.5,1973.0 1086.3,1973.0 1088.0,1973.0 1089.7,1973.0 1091.5,1973.0 1093.2,1973.0 1094.9,1973.0 1096.6,1973.0 1098.3,1973.0 1100.0,1973.0 1102.3,1973.0 1104.6,1973.0 1106.9,1973.0 1109.2,1973.0 1111.5,1973.0 1113.8,1973.0 1116.1,1973.0 1118.3,1973.0 1120.6,1973.0 1122.8,1973.0 1125.1,1973.1 1127.3,1973.1 1129.5,1973.1 1131.8,1973.1 1134.0,1973.1 1136.2,1973.1 1138.4,1973.1 1140.6,1973.1 1142.8,1973.1 1144.9,1973.1 1147.1,1973.1 1149.3,1973.1 1151.4,1973.1 1153.6,1973.1 1155.7,1973.1 1157.8,1973.1 1160.0,1973.1 1162.1,1973.1 1164.2,1973.2 1166.3,1973.2 1168.4,1973.2 1170.4,1973.2 1172.5,1973.2 1174.6,1973.2 1176.6,1973.2 1178.7,1973.2 1180.7,1973.2 1182.7,1973.2 1184.8,1973.2 1186.8,1973.2 1188.8,1973.2 1190.8,1973.2 1192.8,1973.2 1194.7,1973.2 1196.7,1973.2 1198.7,1973.2 1200.6,1973.2 1202.6,1973.2 1204.5,1973.2 1206.4,1973.2 1208.3,1973.2 1210.2,1973.2 1212.1,1973.2 1214.0,1973.2 1215.9,1973.2 1217.8,1973.2 1219.6,1973.2 1221.5,1973.2 1223.3,1973.2 1225.1,1973.2 1227.0,1973.2 1228.8,1973.2 1230.6,1973.2 1232.4,1973.2 1234.1,1973.2 1235.9,1973.2 1237.7,1973.1 1239.4,1973.1 1241.2,1973.1 1242.9,1973.1 1244.6,1973.1 1246.3,1973.1 1248.0,1973.1 1249.7,1973.1 1251.4,1973.1 1253.1,1973.0 1254.7,1973.0 1256.4,1973.0 1258.0,1973.0 1260.3,1973.0 1262.7,1973.0 1264.9,1972.9 1267.2,1972.9 1269.4,1972.9 1271.6,1972.8 1273.7,1972.8 1275.8,1972.8 1277.9,1972.7 1280.0,1972.7 1282.0,1972.7 1284.0,1972.6 1286.0,1972.6 1288.0,1972.6 1290.0,1972.5 1291.9,1972.5 1293.9,1972.5 1295.8,1972.4 1297.7,1972.4 1299.6,1972.3 1301.5,1972.3 1303.4,1972.3 1305.3,1972.2 1307.1,1972.2 1309.0,1972.1 1310.9,1972.1 1312.8,1972.0 1314.7,1972.0 1316.5,1971.9 1318.4,1971.9 1320.3,1971.8 1322.3,1971.8 1324.2,1971.7 1326.1,1971.7 1328.1,1971.6 1330.0,1971.6 1332.0,1971.5 1334.0,1971.5 1336.0,1971.4 1338.0,1971.4 1340.0,1971.3 1341.9,1971.2 1343.9,1971.2 1345.9,1971.1 1347.8,1971.1 1349.8,1971.0 1351.7,1970.9 1353.7,1970.9 1355.6,1970.8 1357.6,1970.7 1359.6,1970.7 1361.5,1970.6 1363.5,1970.5 1365.4,1970.5 1367.4,1970.4 1369.3,1970.3 1371.3,1970.2 1373.3,1970.2 1375.2,1970.1 1377.2,1970.0 1379.2,1970.0 1381.2,1969.9 1383.2,1969.8 1385.2,1969.7 1387.2,1969.7 1389.3,1969.6 1391.3,1969.5 1393.3,1969.5 1395.4,1969.4 1397.5,1969.3 1399.5,1969.3 1401.6,1969.2 1403.7,1969.1 1405.9,1969.1 1408.0,1969.0 1409.9,1968.9 1411.7,1968.9 1413.6,1968.8 1415.5,1968.8 1417.4,1968.7 1419.3,1968.7 1421.2,1968.6 1423.1,1968.6 1425.0,1968.5 1426.9,1968.5 1428.9,1968.4 1430.8,1968.4 1432.7,1968.3 1434.7,1968.3 1436.6,1968.2 1438.6,1968.2 1440.6,1968.1 1442.5,1968.1 1444.5,1968.0 1446.5,1968.0 1448.5,1968.0 1450.5,1967.9 1452.5,1967.9 1454.5,1967.8 1456.5,1967.8 1458.5,1967.7 1460.5,1967.7 1462.6,1967.6 1464.6,1967.6 1466.6,1967.5 1468.6,1967.5 1470.7,1967.4 1472.7,1967.4 1474.8,1967.3 1476.8,1967.3 1478.9,1967.2 1480.9,1967.2 1483.0,1967.1 1485.1,1967.1 1487.1,1967.0 1489.2,1967.0 1491.3,1966.9 1493.4,1966.9 1495.5,1966.8 1497.5,1966.8 1499.6,1966.7 1501.7,1966.7 1503.8,1966.6 1505.9,1966.6 1508.0,1966.5 1509.9,1966.4 1512.0,1966.4 1514.0,1966.3 1516.2,1966.3 1518.4,1966.2 1520.7,1966.2 1523.0,1966.1 1525.3,1966.0 1527.7,1966.0 1530.2,1965.9 1532.7,1965.8 1535.2,1965.7 1537.7,1965.7 1540.3,1965.6 1542.9,1965.5 1545.5,1965.5 1548.2,1965.4 1550.8,1965.3 1553.5,1965.2 1556.2,1965.1 1558.9,1965.1 1561.5,1965.0 1564.2,1964.9 1566.9,1964.8 1569.5,1964.8 1572.2,1964.7 1574.8,1964.6 1577.4,1964.5 1580.0,1964.5 1582.6,1964.4 1585.1,1964.3 1587.6,1964.2 1590.0,1964.2 1592.5,1964.1 1594.8,1964.0 1597.1,1964.0 1599.4,1963.9 1601.6,1963.8 1603.8,1963.8 1605.9,1963.7 1607.9,1963.6 1609.9,1963.6 1611.8,1963.5 1613.6,1963.5 1615.3,1963.4 1617.0,1963.4 1618.5,1963.3 1620.7,1963.3 1622.7,1963.2 1624.4,1963.2 1625.9,1963.1 1627.5,1963.1 1629.1,1963.0 1629.5,1963.0" fill="none" stroke="#4f4f4f" stroke-width="2" marker-start="url(#sq)" marker-mid="url(#sq)" marker-end="url(#sq)"/>
<polyline points="537.5,2262.5 539.1,2268.4 540.8,2274.6 542.4,2280.9 544.0,2286.9 545.6,2292.9 547.2,2298.9 548.8,2305.0 550.2,2310.9 551.7,2316.9 553.2,2323.0 554.7,2329.0 556.2,2335.0 557.7,2341.0 559.2,2347.0 560.7,2353.0 562.3,2358.9 563.8,2365.0 565.5,2371.0 567.0,2375.7 568.8,2380.0 570.7,2384.1 572.3,2387.0 574.1,2389.7 575.9,2392.0 578.0,2394.0 579.8,2395.3 581.7,2396.4 583.8,2397.4 585.9,2398.1 587.9,2398.5 590.0,2398.8 592.0,2398.6 594.1,2398.2 596.1,2397.6 598.1,2396.8 600.1,2395.9 602.0,2395.0 603.8,2394.0 605.5,2392.9 607.2,2391.8 608.8,2390.5 610.4,2389.3 612.0,2388.0 613.5,2386.8 615.7,2385.0 617.9,2383.1 619.4,2381.7 621.0,2380.0 622.6,2378.1 624.3,2376.0 626.0,2373.6 627.8,2371.1 629.6,2368.4 631.5,2365.7 633.3,2363.0 635.1,2360.2 637.0,2357.6 638.8,2355.0 640.5,2352.5 642.3,2350.0 644.0,2347.5 645.8,2345.0 647.5,2342.5 649.3,2340.0 651.0,2337.5 652.8,2335.0 654.5,2332.5 656.2,2330.0 658.0,2327.5 659.8,2325.0 661.5,2322.5 663.2,2320.0 665.0,2317.5 666.8,2315.0 668.5,2312.5 670.2,2310.0 672.0,2307.5 673.8,2305.0 675.5,2302.5 677.3,2300.0 679.0,2297.5 680.8,2295.0 682.6,2292.5 684.4,2290.0 686.1,2287.5 687.8,2285.0 689.6,2282.5 691.2,2280.0 692.9,2277.4 694.6,2274.9 696.3,2272.3 698.0,2269.7 699.6,2267.1 701.2,2264.5 702.8,2261.9 704.4,2259.3 706.0,2256.7 707.5,2254.1 709.4,2250.7 711.2,2247.3 713.0,2243.9 714.8,2240.4 716.7,2236.8 718.2,2234.0 719.9,2231.0 721.8,2227.8 723.6,2224.8 725.5,2221.7 727.4,2218.4 729.0,2215.9 730.5,2213.4 732.2,2210.8 733.8,2208.2 735.5,2205.5 737.1,2202.9 738.8,2200.2 740.6,2197.5 742.3,2194.8 744.0,2192.2 745.7,2189.5 747.5,2186.9 749.2,2184.3 750.9,2181.7 752.5,2179.2 754.2,2176.7 755.9,2174.2 757.5,2171.8 759.2,2169.3 760.9,2166.8 762.6,2164.4 764.3,2161.9 766.0,2159.4 767.8,2157.0 769.5,2154.5 771.2,2152.1 773.0,2149.6 774.7,2147.1 776.5,2144.7 778.2,2142.2 780.0,2139.8 781.7,2137.3 783.5,2134.9 785.2,2132.4 787.0,2130.0 788.8,2127.6 790.5,2125.1 792.3,2122.6 794.2,2120.1 796.0,2117.6 797.8,2115.0 799.7,2112.5 801.5,2110.0 803.4,2107.5 805.2,2105.0 807.0,2102.5 808.9,2100.0 810.7,2097.5 812.5,2095.1 814.3,2092.7 816.1,2090.4 817.8,2088.1 819.5,2085.8 821.2,2083.6 822.9,2081.4 824.7,2079.1 826.8,2076.5 828.8,2073.9 830.8,2071.5 832.7,2069.0 834.7,2066.7 836.6,2064.3 838.5,2062.0 840.4,2059.8 842.3,2057.5 844.1,2055.3 846.0,2053.0 847.9,2050.8 849.8,2048.4 851.8,2045.9 853.8,2043.5 855.7,2041.1 857.6,2038.7 859.6,2036.4 861.5,2034.0 863.4,2031.7 865.4,2029.4 867.3,2027.1 869.3,2024.8 871.4,2022.4 873.4,2020.0 875.4,2017.6 877.4,2015.2 879.4,2012.8 881.5,2010.4 883.5,2008.1 885.7,2005.9 887.9,2003.8 889.4,2002.4 890.9,2001.2 892.5,2000.0 894.1,1998.9 895.8,1997.8 897.5,1996.8 899.2,1995.9 900.9,1995.0 902.7,1994.2 904.5,1993.4 906.3,1992.6 908.1,1991.9 910.0,1991.2 911.9,1990.5 913.9,1989.9 915.9,1989.2 917.9,1988.6 920.0,1988.0 921.8,1987.5 923.6,1987.0 925.4,1986.6 927.3,1986.2 929.3,1985.8 931.3,1985.4 933.3,1985.1 935.3,1984.7 937.4,1984.4 939.5,1984.1 941.6,1983.8 943.7,1983.5 945.8,1983.2 947.9,1983.0 950.0,1982.7 952.0,1982.5 954.1,1982.3 956.2,1982.0 958.2,1981.8 960.2,1981.6 962.1,1981.3 964.1,1981.1 966.1,1980.9 968.1,1980.6 970.1,1980.4 972.0,1980.2 973.9,1980.0 975.8,1979.9 977.7,1979.7 979.5,1979.5 981.4,1979.4 983.3,1979.3 985.2,1979.1 987.1,1979.0 989.1,1978.8 991.1,1978.7 993.2,1978.5 995.4,1978.4 997.6,1978.2 1000.0,1978.0 1001.6,1977.9 1003.3,1977.8 1005.0,1977.6 1006.7,1977.5 1008.5,1977.4 1010.3,1977.3 1012.1,1977.2 1014.0,1977.1 1015.9,1977.0 1017.8,1976.9 1019.8,1976.7 1021.8,1976.6 1023.8,1976.5 1025.8,1976.4 1027.8,1976.3 1029.9,1976.2 1032.0,1976.1 1034.1,1976.0 1036.2,1975.8 1038.3,1975.7 1040.4,1975.6 1042.6,1975.5 1044.7,1975.3 1046.9,1975.2 1049.0,1975.1 1051.1,1974.9 1053.3,1974.8 1055.4,1974.6 1057.6,1974.4 1059.7,1974.3 1061.8,1974.1 1063.9,1973.9 1066.0,1973.7 1068.0,1973.5 1070.1,1973.3 1072.1,1973.1 1074.1,1972.9 1076.1,1972.6 1078.1,1972.4 1080.0,1972.1 1082.0,1971.9 1084.1,1971.6 1086.1,1971.3 1088.2,1971.0 1090.3,1970.6 1092.3,1970.3 1094.4,1970.0 1096.4,1969.7 1098.5,1969.3 1100.5,1969.0 1102.5,1968.6 1104.6,1968.3 1106.6,1967.9 1108.6,1967.5 1110.6,1967.1 1112.7,1966.8 1114.7,1966.4 1116.7,1966.0 1118.6,1965.6 1120.6,1965.1 1122.6,1964.7 1124.6,1964.3 1126.5,1963.9 1128.5,1963.4 1130.4,1963.0 1132.3,1962.5 1134.2,1962.1 1136.1,1961.6 1138.0,1961.2 1139.9,1960.7 1141.8,1960.2 1143.6,1959.7 1145.5,1959.2 1147.3,1958.7 1149.1,1958.3 1151.0,1957.7 1153.1,1957.1 1155.1,1956.5 1157.1,1955.9 1159.0,1955.3 1161.0,1954.7 1162.9,1954.0 1164.8,1953.4 1166.7,1952.7 1168.6,1952.1 1170.5,1951.4 1172.4,1950.7 1174.2,1950.0 1176.1,1949.3 1177.9,1948.6 1179.7,1947.9 1181.6,1947.2 1183.4,1946.5 1185.2,1945.8 1187.1,1945.1 1188.9,1944.4 1190.7,1943.6 1192.6,1942.9 1194.4,1942.2 1196.3,1941.5 1198.1,1940.7 1200.0,1940.0 1201.9,1939.3 1203.7,1938.5 1205.6,1937.8 1207.4,1937.1 1209.3,1936.3 1211.2,1935.6 1213.0,1934.8 1214.9,1934.0 1216.7,1933.3 1218.6,1932.5 1220.4,1931.7 1222.3,1931.0 1224.1,1930.2 1226.0,1929.4 1227.8,1928.6 1229.7,1927.8 1231.5,1927.0 1233.4,1926.2 1235.2,1925.4 1237.1,1924.6 1238.9,1923.8 1240.8,1923.0 1242.6,1922.2 1244.5,1921.4 1246.3,1920.6 1248.2,1919.8 1250.0,1919.0 1251.8,1918.2 1253.7,1917.4 1255.6,1916.5 1257.5,1915.7 1259.4,1914.8 1261.4,1914.0 1263.3,1913.1 1265.3,1912.2 1267.2,1911.4 1269.2,1910.5 1271.1,1909.6 1273.1,1908.7 1275.0,1907.8 1276.9,1906.9 1278.9,1906.1 1280.7,1905.2 1282.6,1904.3 1284.4,1903.5 1286.3,1902.6 1288.0,1901.8 1289.8,1901.0 1291.5,1900.2 1293.1,1899.4 1294.8,1898.6 1296.3,1897.8 1297.8,1897.1 1300.0,1896.0 1302.2,1894.9 1304.3,1893.8 1306.2,1892.8 1308.1,1891.8 1309.9,1890.9 1311.7,1889.9 1313.4,1889.0 1315.1,1888.0 1316.7,1887.0 1318.4,1886.0 1320.0,1885.0 1321.8,1883.8 1323.6,1882.7 1325.3,1881.6 1327.0,1880.4 1328.7,1879.2 1330.3,1878.0 1331.9,1876.7 1333.5,1875.4 1335.0,1874.0 1337.1,1871.9 1339.1,1869.6 1341.0,1867.3 1342.9,1864.9 1344.8,1862.4 1346.7,1859.8 1348.6,1857.2 1350.2,1854.9 1351.9,1852.4 1353.6,1849.9 1355.3,1847.3 1357.0,1844.7 1358.6,1842.1 1360.3,1839.4 1361.9,1836.8 1363.5,1834.1 1365.1,1831.5 1366.6,1828.9 1368.1,1826.2 1370.1,1822.6 1372.1,1819.0 1374.0,1815.4 1376.0,1811.8 1378.0,1808.2 1379.5,1805.5 1381.0,1802.9 1382.5,1800.2 1384.0,1797.5 1385.5,1794.8 1387.0,1792.2 1389.0,1788.6 1391.0,1785.0 1393.0,1781.4 1394.9,1777.7 1396.9,1773.9 1398.9,1770.2 1400.8,1766.7 1402.7,1763.2 1404.5,1760.0 1406.2,1757.1 1407.7,1754.3 1409.3,1751.7 1410.9,1749.2 1412.7,1746.7 1414.6,1744.2 1416.6,1741.9 1418.7,1739.6 1420.9,1737.3 1422.4,1735.8 1424.0,1734.4 1425.6,1733.0 1427.3,1731.7 1429.1,1730.6 1430.8,1729.5 1432.6,1728.6 1434.4,1727.6 1436.4,1726.6 1438.4,1725.7 1440.4,1724.9 1442.5,1724.1 1444.5,1723.4 1446.6,1722.8 1448.6,1722.3 1450.5,1722.0 1452.4,1721.9 1454.2,1721.9 1456.0,1722.2 1457.9,1722.7 1459.7,1723.5 1461.4,1724.5 1463.1,1725.7 1464.8,1726.9 1466.3,1728.3 1467.9,1729.8 1470.0,1732.0 1471.9,1734.3 1473.5,1736.8 1475.5,1740.4 1477.4,1744.2 1479.4,1748.0 1481.0,1750.8 1482.9,1754.1 1484.5,1756.6 1486.0,1759.2 1487.6,1761.8 1489.2,1764.4 1490.9,1767.1 1492.4,1769.7 1494.0,1772.4 1495.5,1775.0 1497.5,1778.6 1499.4,1782.3 1501.3,1786.0 1503.2,1789.6 1505.1,1793.2 1507.0,1796.7 1509.0,1800.0 1510.7,1802.7 1512.4,1805.4 1514.0,1808.0 1515.7,1810.5 1517.5,1813.0 1519.3,1815.2 1521.3,1817.3 1523.6,1819.5 1525.3,1820.9 1527.0,1822.4 1528.8,1823.7 1530.6,1825.0 1532.4,1826.0 1534.3,1826.9 1536.1,1827.6 1538.0,1828.0 1539.9,1828.1 1541.8,1827.9 1543.8,1827.5 1545.7,1826.9 1547.7,1826.2 1549.7,1825.3 1551.8,1824.4 1553.9,1823.5 1555.8,1822.7 1557.4,1822.0 1559.1,1821.2 1560.8,1820.4 1562.5,1819.6 1564.3,1818.7 1566.1,1817.7 1567.9,1816.8 1569.8,1815.8 1571.6,1814.7 1573.4,1813.7 1575.2,1812.6 1577.0,1811.5 1578.8,1810.4 1580.5,1809.2 1582.2,1808.1 1583.8,1806.9 1585.5,1805.7 1587.1,1804.4 1588.7,1803.1 1590.4,1801.8 1592.0,1800.4 1593.6,1799.0 1595.2,1797.6 1596.8,1796.1 1598.3,1794.7 1599.8,1793.2 1602.0,1791.1 1604.1,1789.0 1606.1,1787.0 1608.0,1785.0 1609.5,1783.4 1611.7,1781.0 1613.7,1778.8 1615.6,1776.5 1617.3,1774.2 1618.9,1771.7 1620.5,1769.1 1622.1,1765.9 1623.6,1762.2 1625.5,1757.2 1627.3,1752.1 1628.0,1750.0" fill="none" stroke="#d9534f" stroke-width="2" marker-start="url(#ci)" marker-mid="url(#ci)" marker-end="url(#ci)"/>
<polyline points="537.5,2062.5 539.2,2067.6 540.7,2071.9 542.5,2078.6 544.2,2081.7 545.8,2087.0 547.5,2090.3 549.3,2093.2 551.1,2098.2 553.0,2100.3 555.0,2104.8 556.7,2106.5 558.4,2109.3 560.2,2112.9 562.1,2116.4 564.2,2116.3 565.8,2117.7 567.5,2119.9 569.4,2121.7 571.3,2121.3 573.3,2121.3 575.3,2123.4 577.4,2120.9 579.5,2123.6 581.4,2121.9 583.4,2121.4 585.4,2121.1 587.5,2121.3 589.5,2122.4 591.7,2120.1 593.8,2120.8 595.9,2120.4 598.0,2119.1 600.0,2119.1 602.0,2117.2 604.0,2116.7 606.0,2116.6 607.9,2117.4 609.9,2116.1 611.9,2115.1 613.9,2115.3 615.9,2114.2 617.9,2113.1 620.0,2113.9 621.8,2113.0 623.6,2111.0 625.4,2111.3 627.2,2110.5 629.1,2110.9 630.9,2109.8 632.8,2107.8 634.7,2109.1 636.6,2105.7 638.6,2105.9 640.7,2106.0 642.8,2103.4 645.0,2103.5 646.6,2101.5 648.2,2102.7 649.8,2102.3 651.5,2101.0 653.2,2101.1 655.0,2098.7 656.8,2099.0 658.6,2097.9 660.4,2097.1 662.3,2095.9 664.2,2096.2 666.1,2095.6 668.0,2093.3 669.9,2093.0 671.9,2090.4 673.8,2091.4 675.8,2090.3 677.7,2090.5 679.7,2089.1 681.6,2086.5 683.6,2085.9 685.5,2085.9 687.5,2083.1 689.4,2083.5 691.3,2081.7 693.1,2080.7 695.0,2079.7 696.8,2081.0 698.6,2078.2 700.5,2077.7 702.3,2077.3 704.1,2077.9 705.9,2074.6 707.8,2074.9 709.6,2074.3 711.4,2074.5 713.2,2073.4 715.0,2072.7 716.9,2070.1 718.7,2069.6 720.5,2068.6 722.3,2069.3 724.1,2068.6 726.0,2065.3 727.8,2064.5 729.6,2063.8 731.4,2062.9 733.2,2062.8 735.0,2062.2 736.8,2060.3 738.7,2058.7 740.5,2059.0 742.3,2058.0 744.1,2057.7 745.9,2057.9 747.7,2056.2 749.5,2054.8 751.3,2054.2 753.1,2053.4 754.9,2050.6 756.7,2052.3 758.5,2051.0 760.3,2050.3 762.1,2049.1 763.9,2047.0 765.7,2046.1 767.5,2044.2 769.3,2044.9 771.1,2042.2 772.9,2041.3 774.7,2040.8 776.5,2039.7 778.2,2039.3 780.0,2037.5 781.8,2036.4 783.6,2035.9 785.3,2034.8 787.1,2034.7 788.9,2032.8 790.6,2034.4 792.4,2032.7 794.1,2030.4 795.9,2029.8 797.8,2029.1 799.6,2028.2 801.4,2026.5 803.2,2027.8 805.0,2027.2 806.8,2024.7 808.6,2023.8 810.3,2021.7 812.1,2020.8 813.9,2020.5 815.7,2019.4 817.4,2020.1 819.2,2017.2 821.0,2015.8 822.7,2017.7 824.5,2015.5 826.3,2013.5 828.1,2013.8 829.9,2011.3 831.7,2011.9 833.5,2012.4 835.4,2011.2 837.2,2009.8 839.1,2007.7 840.9,2007.2 842.7,2005.8 844.6,2006.8 846.4,2005.3 848.3,2005.3 850.1,2003.1 852.0,2002.0 853.8,2003.0 855.7,2002.8 857.6,2001.6 859.5,2000.7 861.4,2000.0 863.3,1999.0 865.2,1996.8 867.1,1996.9 869.0,1995.7 870.9,1994.0 872.8,1993.4 874.7,1993.4 876.6,1992.7 878.5,1993.3 880.4,1993.5 882.4,1991.3 884.3,1992.1 886.2,1991.7 888.1,1991.0 890.0,1988.6 891.9,1987.6 893.9,1987.0 895.8,1986.4 897.7,1985.8 899.7,1986.5 901.6,1986.8 903.5,1986.1 905.4,1984.5 907.4,1984.6 909.3,1984.5 911.2,1981.9 913.2,1983.1 915.1,1983.4 917.1,1982.6 919.0,1982.0 921.0,1980.8 922.9,1979.5 924.9,1980.9 926.9,1979.1 928.9,1980.1 930.9,1980.2 932.9,1978.1 934.9,1977.7 936.9,1978.9 939.0,1977.9 941.0,1975.8 942.9,1975.4 944.8,1975.1 946.7,1977.0 948.6,1976.4 950.5,1974.1 952.4,1975.8 954.4,1976.0 956.3,1974.7 958.3,1973.5 960.2,1973.8 962.2,1972.2 964.1,1971.6 966.1,1974.2 968.1,1972.9 970.1,1972.3 972.1,1973.3 974.1,1971.5 976.1,1972.6 978.1,1972.2 980.1,1970.1 982.2,1970.0 984.2,1969.9 986.3,1969.5 988.4,1970.3 990.5,1969.2 992.6,1969.4 994.7,1968.4 996.8,1970.5 998.9,1968.7 1000.9,1968.8 1002.8,1969.0 1004.6,1969.8 1006.5,1968.2 1008.4,1969.6 1010.3,1968.2 1012.2,1968.2 1014.0,1968.1 1015.9,1966.4 1017.8,1967.6 1019.7,1966.7 1021.7,1966.1 1023.6,1968.4 1025.5,1966.4 1027.5,1967.2 1029.4,1967.9 1031.4,1967.3 1033.3,1966.6 1035.3,1967.1 1037.3,1967.1 1039.2,1967.7 1041.2,1965.6 1043.2,1966.9 1045.3,1966.0 1047.3,1966.0 1049.3,1967.4 1051.4,1966.6 1053.4,1966.7 1055.5,1967.3 1057.5,1967.7 1059.6,1966.2 1061.7,1966.7 1063.8,1966.3 1065.9,1966.3 1068.1,1966.8 1070.2,1966.0 1072.4,1966.2 1074.5,1966.0 1076.7,1967.4 1078.9,1966.6 1080.9,1967.1 1082.7,1967.3 1084.6,1965.2 1086.5,1966.1 1088.4,1967.3 1090.4,1967.0 1092.4,1964.9 1094.4,1964.9 1096.4,1965.9 1098.5,1964.8 1100.6,1965.3 1102.7,1964.9 1104.8,1966.7 1107.0,1967.1 1109.1,1967.5 1111.3,1965.4 1113.5,1967.1 1115.7,1967.0 1117.9,1965.6 1120.1,1967.9 1122.3,1968.2 1124.6,1966.0 1126.8,1968.3 1129.0,1966.7 1131.3,1967.1 1133.5,1968.6 1135.8,1968.3 1138.0,1966.3 1140.2,1967.2 1142.5,1967.5 1144.7,1967.1 1146.9,1966.7 1149.1,1967.1 1151.3,1968.4 1153.5,1966.3 1155.6,1968.0 1157.8,1967.7 1159.9,1966.4 1162.0,1967.4 1164.1,1968.3 1166.2,1968.0 1168.2,1966.6 1170.2,1969.4 1172.2,1968.8 1174.2,1969.3 1176.1,1966.7 1178.0,1967.1 1179.9,1966.4 1181.7,1968.5 1183.6,1966.9 1185.3,1966.4 1187.0,1967.2 1188.7,1968.6 1190.4,1968.1 1192.0,1966.3 1193.6,1965.8 1195.1,1968.0 1197.3,1966.6 1199.3,1966.7 1201.3,1964.5 1203.8,1963.9 1206.1,1965.2 1208.4,1963.7 1210.5,1962.0 1212.5,1963.8 1214.4,1962.2 1216.3,1961.9 1218.1,1958.9 1219.8,1960.4 1221.5,1957.3 1223.2,1958.9 1224.9,1956.9 1226.6,1955.8 1228.3,1955.8 1230.0,1956.3 1232.1,1953.5 1234.1,1952.3 1236.0,1952.7 1237.9,1951.0 1239.8,1949.8 1241.6,1949.2 1243.5,1948.3 1245.3,1948.2 1247.2,1948.2 1249.1,1947.9 1251.0,1949.3 1252.9,1948.1 1254.8,1949.1 1256.7,1948.7 1258.6,1949.8 1260.5,1949.6 1262.4,1951.1 1264.3,1951.2 1266.2,1954.2 1268.1,1954.4 1270.0,1954.1 1271.9,1955.7 1273.8,1957.8 1275.7,1956.2 1277.7,1959.2 1279.6,1958.9 1281.5,1960.0 1283.4,1961.8 1285.3,1961.2 1287.2,1962.2 1289.1,1963.3 1291.0,1964.7 1292.9,1963.1 1294.8,1964.8 1296.6,1964.5 1298.5,1964.4 1300.4,1963.7 1302.4,1963.5 1304.5,1962.6 1306.8,1962.9 1308.8,1962.7 1310.3,1964.8 1312.0,1963.3 1313.7,1963.0 1315.5,1962.8 1317.3,1965.1 1319.2,1965.2 1321.2,1964.6 1323.2,1963.4 1325.2,1963.3 1327.3,1963.4 1329.3,1963.9 1331.5,1962.9 1333.6,1963.7 1335.7,1963.1 1337.9,1965.2 1340.1,1965.1 1342.2,1963.8 1344.4,1962.7 1346.6,1964.8 1348.7,1962.7 1350.8,1962.7 1352.9,1961.5 1355.0,1962.4 1357.0,1962.5 1359.0,1962.4 1361.0,1961.3 1363.0,1962.0 1365.0,1960.2 1367.0,1960.7 1369.0,1959.9 1371.1,1960.6 1373.1,1959.2 1375.1,1958.9 1377.1,1959.4 1379.1,1958.9 1381.1,1959.6 1383.1,1959.1 1385.1,1959.4 1387.1,1958.7 1389.1,1958.5 1391.1,1958.6 1393.1,1956.7 1395.1,1956.1 1397.1,1957.6 1399.1,1954.7 1401.1,1955.9 1403.0,1955.2 1405.0,1952.9 1407.0,1954.8 1409.0,1954.4 1410.9,1953.1 1412.9,1952.9 1414.8,1952.5 1416.7,1949.9 1418.7,1950.5 1420.6,1949.8 1422.5,1950.2 1424.5,1949.5 1426.4,1948.9 1428.3,1947.5 1430.2,1947.8 1432.2,1946.5 1434.1,1945.8 1436.0,1943.7 1437.9,1942.4 1439.8,1942.0 1441.8,1941.9 1443.7,1940.4 1445.6,1941.9 1447.5,1940.3 1449.4,1939.8 1451.3,1939.0 1453.2,1938.4 1455.1,1937.1 1457.0,1934.9 1458.9,1936.5 1460.8,1935.6 1462.7,1934.1 1464.5,1933.5 1466.4,1933.1 1468.3,1930.5 1470.1,1931.7 1472.0,1929.5 1473.8,1928.1 1475.7,1927.9 1477.6,1928.5 1479.4,1926.1 1481.3,1926.9 1483.1,1926.7 1485.0,1924.5 1486.8,1923.3 1488.7,1922.7 1490.5,1922.5 1492.4,1921.9 1494.2,1920.6 1496.1,1919.8 1497.9,1917.2 1499.7,1916.5 1501.6,1915.9 1503.4,1916.5 1505.2,1914.3 1507.1,1914.2 1508.9,1911.6 1510.7,1910.8 1512.4,1910.6 1514.2,1910.9 1516.0,1910.0 1517.7,1909.0 1519.5,1906.9 1521.2,1906.6 1523.0,1905.5 1524.7,1904.6 1526.5,1902.6 1528.2,1903.9 1530.0,1900.9 1531.8,1902.2 1533.5,1901.1 1535.3,1897.4 1537.0,1897.7 1538.7,1897.8 1540.5,1897.2 1542.2,1894.7 1544.0,1893.2 1545.7,1892.0 1547.5,1893.2 1549.2,1890.0 1551.0,1890.1 1552.7,1887.8 1554.5,1888.0 1556.2,1888.3 1558.0,1884.9 1559.8,1886.0 1561.6,1884.1 1563.4,1884.2 1565.2,1882.7 1567.1,1880.3 1568.9,1881.3 1570.8,1879.1 1572.7,1876.7 1574.6,1875.6 1576.5,1876.1 1578.4,1875.0 1580.3,1873.5 1582.2,1872.0 1584.0,1871.7 1585.9,1870.6 1587.7,1871.2 1589.5,1867.7 1591.3,1869.0 1593.1,1868.3 1594.8,1865.1 1596.5,1866.6 1598.2,1865.0 1599.8,1864.6 1601.4,1861.9 1603.0,1861.2 1605.2,1859.9 1607.3,1860.4 1609.0,1858.1 1611.1,1856.0 1613.3,1854.6 1615.5,1852.6 1617.6,1850.3 1619.7,1848.9 1621.6,1849.6 1623.4,1846.6 1624.9,1847.3 1626.7,1843.8 1628.0,1843.5" fill="none" stroke="#4674ba" stroke-width="2" marker-start="url(#up)" marker-mid="url(#up)" marker-end="url(#up)"/>
<polyline points="537.5,2018.5 539.5,2019.7 541.2,2021.9 543.1,2022.7 545.2,2025.2 547.2,2028.8 549.1,2030.4 550.7,2031.6 552.9,2033.2 555.1,2036.2 557.3,2038.5 558.9,2038.8 560.4,2040.7 561.9,2040.1 563.4,2043.4 565.0,2043.9 566.7,2046.1 568.5,2047.1 570.3,2047.4 572.1,2047.9 573.9,2051.7 575.6,2050.4 577.4,2052.4 579.1,2052.7 581.0,2053.2 583.1,2054.8 585.0,2055.6 587.0,2053.4 589.0,2054.5 591.0,2053.4 593.0,2054.2 594.9,2053.7 596.8,2053.0 598.8,2052.8 600.9,2052.8 602.9,2054.6 604.7,2053.0 606.6,2051.8 608.6,2053.3 610.6,2053.1 612.6,2050.9 614.7,2049.4 616.8,2048.9 618.9,2048.1 620.9,2048.3 622.8,2047.1 624.6,2047.1 626.5,2046.7 628.4,2047.1 630.3,2047.6 632.2,2046.7 634.2,2045.2 636.2,2044.7 638.3,2044.4 640.5,2043.4 642.7,2042.7 645.0,2041.2 646.6,2041.4 648.3,2042.9 650.0,2039.9 651.8,2040.5 653.6,2040.3 655.4,2040.5 657.3,2037.9 659.1,2037.5 661.1,2036.8 663.0,2036.7 665.0,2036.2 667.0,2037.1 669.0,2036.1 671.0,2035.6 673.0,2032.3 675.0,2031.7 677.0,2033.1 679.1,2033.0 681.1,2031.0 683.1,2030.7 685.1,2028.3 687.2,2028.8 689.1,2029.7 691.1,2028.8 693.1,2028.2 695.0,2027.9 696.9,2025.1 698.9,2024.0 700.8,2023.5 702.7,2023.9 704.6,2023.8 706.6,2023.9 708.5,2022.5 710.4,2021.6 712.3,2021.3 714.2,2019.7 716.2,2019.3 718.1,2017.1 720.0,2018.6 721.9,2016.3 723.8,2017.7 725.8,2016.2 727.7,2014.5 729.6,2013.2 731.5,2012.9 733.5,2013.4 735.4,2012.9 737.3,2010.5 739.2,2009.7 741.1,2010.4 743.1,2009.9 745.0,2008.7 746.9,2007.5 748.8,2008.0 750.8,2005.5 752.7,2005.7 754.6,2005.5 756.6,2006.3 758.5,2004.7 760.4,2004.7 762.4,2002.8 764.3,2001.4 766.2,2000.7 768.2,2002.2 770.1,2000.8 772.0,1998.9 774.0,1997.4 775.9,1998.2 777.8,1998.1 779.7,1996.7 781.7,1995.6 783.6,1996.2 785.5,1996.4 787.4,1993.7 789.3,1992.6 791.2,1993.0 793.1,1992.7 795.0,1993.0 797.0,1991.1 799.0,1992.4 801.1,1991.8 803.1,1990.7 805.1,1989.4 807.0,1991.3 809.0,1989.0 811.0,1990.1 813.0,1988.0 815.0,1987.7 816.9,1989.0 818.9,1987.3 820.9,1988.9 822.9,1987.3 824.9,1986.1 826.9,1985.9 828.9,1986.2 830.9,1986.7 832.9,1987.3 834.9,1984.6 836.9,1985.1 839.0,1984.3 841.0,1986.3 842.9,1983.5 844.9,1983.0 846.9,1982.8 848.8,1983.6 850.8,1984.9 852.8,1984.6 854.8,1983.9 856.8,1984.5 858.8,1984.1 860.8,1982.1 862.8,1981.4 864.8,1983.5 866.8,1982.7 868.8,1980.4 870.9,1982.1 872.9,1981.1 874.9,1980.9 876.9,1980.6 878.9,1979.9 881.0,1979.2 883.0,1979.9 885.0,1980.0 887.0,1981.6 889.0,1979.0 891.0,1981.3 893.0,1978.9 895.0,1979.2 897.0,1980.4 899.0,1980.3 901.0,1979.0 903.0,1977.7 905.0,1978.8 907.0,1978.4 909.0,1979.9 911.0,1977.6 913.0,1978.0 915.0,1979.5 917.0,1976.8 919.0,1977.8 921.0,1978.9 923.0,1978.7 925.0,1976.4 927.0,1976.3 929.0,1976.2 931.0,1978.7 933.0,1976.6 935.0,1978.0 937.0,1978.3 939.0,1976.6 941.0,1976.3 943.0,1978.2 944.9,1977.1 946.9,1975.9 948.8,1977.2 950.7,1975.9 952.6,1975.7 954.5,1974.8 956.4,1976.9 958.3,1977.3 960.2,1976.4 962.1,1977.2 964.1,1974.4 966.0,1974.9 967.9,1975.6 969.9,1976.9 971.9,1976.9 973.9,1975.1 975.9,1974.6 978.0,1975.1 980.1,1975.2 982.2,1976.5 984.4,1974.2 986.6,1976.0 988.9,1975.7 990.9,1976.0 992.6,1975.8 994.3,1975.3 996.1,1974.4 997.9,1974.4 999.7,1974.5 1001.5,1975.7 1003.3,1973.6 1005.2,1974.0 1007.0,1975.6 1008.9,1974.1 1010.8,1973.6 1012.7,1973.5 1014.6,1975.1 1016.6,1974.4 1018.5,1976.4 1020.5,1976.1 1022.5,1976.4 1024.5,1974.3 1026.5,1973.8 1028.5,1973.8 1030.5,1975.0 1032.5,1975.7 1034.6,1974.9 1036.6,1974.3 1038.7,1974.9 1040.8,1975.5 1042.8,1975.7 1044.9,1976.0 1047.0,1976.3 1049.1,1975.8 1051.2,1974.2 1053.3,1976.3 1055.4,1974.7 1057.6,1975.6 1059.7,1975.0 1061.8,1976.1 1063.9,1974.5 1066.1,1974.7 1068.2,1974.7 1070.3,1974.4 1072.5,1976.6 1074.6,1975.7 1076.7,1975.0 1078.9,1975.2 1081.0,1977.0 1082.9,1975.5 1084.8,1974.7 1086.7,1976.4 1088.6,1976.0 1090.6,1977.0 1092.6,1974.3 1094.6,1975.4 1096.6,1976.5 1098.6,1976.6 1100.7,1976.8 1102.7,1974.2 1104.8,1974.9 1106.9,1974.4 1109.0,1974.6 1111.1,1977.0 1113.2,1975.8 1115.3,1976.9 1117.5,1975.2 1119.6,1976.7 1121.7,1975.5 1123.9,1974.9 1126.0,1976.4 1128.2,1977.0 1130.3,1974.4 1132.5,1975.9 1134.6,1976.0 1136.8,1974.8 1138.9,1975.2 1141.1,1974.6 1143.2,1974.7 1145.4,1974.9 1147.5,1975.9 1149.6,1976.1 1151.7,1974.7 1153.8,1974.2 1155.9,1975.1 1158.0,1976.1 1160.1,1974.7 1162.1,1975.0 1164.2,1974.7 1166.2,1976.4 1168.2,1975.7 1170.2,1974.2 1172.2,1974.3 1174.2,1975.2 1176.1,1975.6 1178.1,1975.9 1180.0,1974.2 1181.8,1974.4 1183.7,1976.0 1185.5,1975.1 1187.3,1974.7 1189.1,1974.7 1190.9,1976.6 1192.6,1974.6 1194.3,1975.4 1196.0,1974.7 1197.6,1974.8 1199.2,1976.1 1201.2,1976.5 1203.6,1974.5 1205.9,1973.9 1208.3,1975.4 1210.5,1973.7 1212.8,1973.1 1215.0,1975.7 1217.1,1974.1 1219.2,1975.2 1221.3,1973.9 1223.4,1975.2 1225.4,1973.8 1227.4,1972.8 1229.4,1972.3 1231.3,1973.7 1233.2,1973.9 1235.1,1974.6 1236.9,1972.0 1238.8,1973.4 1240.6,1972.5 1242.3,1972.8 1244.1,1971.5 1245.8,1971.8 1247.5,1972.3 1249.2,1973.4 1251.2,1970.7 1253.4,1971.6 1255.6,1972.3 1257.8,1972.6 1259.8,1970.1 1261.8,1969.6 1263.8,1971.8 1265.7,1971.7 1267.6,1969.9 1269.5,1968.2 1271.3,1970.4 1273.2,1968.3 1275.0,1969.2 1277.0,1967.7 1278.9,1967.5 1280.8,1964.7 1282.7,1965.7 1284.5,1963.1 1286.4,1962.7 1288.1,1962.9 1289.9,1961.8 1291.6,1958.6 1293.3,1957.5 1295.0,1956.7 1297.1,1955.1 1299.1,1952.6 1301.1,1949.6 1302.9,1947.6 1304.8,1946.6 1306.6,1944.6 1308.5,1939.4 1310.4,1938.5 1312.3,1936.6 1314.3,1932.1 1316.2,1932.3 1318.2,1927.9 1320.1,1927.2 1322.1,1924.9 1324.1,1922.9 1326.1,1919.6 1328.2,1917.6 1330.3,1915.6 1332.4,1912.5 1334.5,1910.5 1336.1,1907.8 1337.6,1905.6 1339.2,1902.1 1340.9,1901.6 1342.5,1898.8 1344.2,1895.6 1345.8,1894.7 1347.5,1892.2 1349.2,1888.7 1350.9,1885.2 1352.6,1883.5 1354.3,1879.8 1356.0,1877.2 1357.7,1875.4 1359.4,1871.7 1361.1,1870.2 1362.8,1867.7 1364.5,1863.7 1366.1,1862.9 1367.8,1858.7 1369.4,1858.1 1371.1,1855.7 1372.7,1852.3 1374.4,1848.4 1376.0,1847.1 1377.7,1844.2 1379.3,1843.3 1380.9,1838.3 1382.6,1837.9 1384.2,1835.7 1385.8,1832.3 1387.4,1830.0 1389.0,1825.5 1390.6,1825.3 1392.2,1821.2 1393.8,1820.0 1395.4,1817.3 1396.9,1812.5 1398.5,1811.7 1400.0,1809.5 1401.6,1804.3 1403.1,1802.6 1405.1,1800.3 1407.0,1794.9 1409.0,1793.6 1411.0,1788.2 1412.9,1786.3 1414.8,1780.8 1416.8,1778.3 1418.7,1776.1 1420.6,1770.4 1422.6,1767.1 1424.5,1764.3 1426.5,1760.3 1428.0,1756.8 1429.6,1754.6 1431.1,1751.9 1432.6,1751.6 1434.2,1748.2 1435.7,1746.3 1437.3,1741.5 1438.8,1740.7 1440.4,1736.1 1441.9,1734.8 1443.5,1732.5 1445.0,1729.1 1446.6,1728.0 1448.2,1724.5 1449.7,1722.0 1451.3,1720.3 1452.9,1715.3 1454.5,1715.4 1456.0,1711.7 1457.6,1708.3 1459.2,1706.8 1460.9,1702.5 1462.5,1701.9 1464.2,1697.9 1465.9,1694.4 1467.6,1692.9 1469.3,1689.1 1470.9,1685.5 1472.6,1684.5 1474.2,1679.8 1475.8,1679.4 1477.4,1675.2 1478.9,1673.9 1480.9,1671.8 1482.8,1667.6 1484.6,1665.1 1486.4,1661.4 1488.3,1657.7 1490.0,1655.3 1491.7,1653.3 1493.4,1652.4 1495.1,1649.6 1496.9,1647.4 1498.6,1646.1 1500.3,1641.5 1502.0,1639.4 1503.8,1638.3 1505.5,1634.0 1507.3,1631.6 1509.2,1630.2 1511.2,1627.0 1513.1,1625.3 1515.0,1622.7 1516.9,1621.5 1518.9,1619.2 1521.0,1615.6 1523.1,1614.5 1525.2,1611.7 1527.3,1608.4 1529.4,1608.5 1531.5,1604.2 1533.6,1601.8 1535.8,1599.5 1537.3,1599.7 1539.5,1598.3 1541.8,1596.1 1544.0,1593.0 1546.2,1590.7 1547.8,1588.6 1549.3,1589.2 1550.9,1587.7 1552.5,1585.7 1554.2,1585.2 1555.7,1583.2 1557.8,1582.9 1560.1,1580.4 1561.6,1577.7 1563.2,1578.4 1564.8,1574.5 1566.4,1574.7 1568.0,1573.0 1569.6,1571.2 1571.3,1569.3 1572.9,1570.2 1574.5,1566.6 1576.1,1566.9 1577.7,1566.7 1579.2,1563.0 1580.7,1561.9 1582.9,1561.2 1585.0,1559.0 1586.6,1558.0 1588.1,1557.0 1590.3,1552.9 1592.4,1551.1 1594.5,1549.0 1596.6,1546.1 1598.6,1546.5 1600.7,1544.0 1602.8,1541.7 1605.0,1537.5 1606.6,1538.6 1608.3,1536.7 1610.2,1534.2 1612.2,1533.3 1614.2,1530.7 1616.2,1528.3 1618.2,1526.3 1620.0,1525.1 1621.8,1523.0 1623.4,1522.6 1625.3,1522.2 1626.8,1520.8 1627.0,1520.0" fill="none" stroke="#4fa768" stroke-width="2" marker-start="url(#dn)" marker-mid="url(#dn)" marker-end="url(#dn)"/>
<line x1="1083" y1="1462.5" x2="1081" y2="2409" stroke="#1a1a1a" stroke-width="2" stroke-dasharray="9 5"/>
<polygon points="1074.5,2400 1087.5,2400 1083.5,2423 1083.5,2429 1078.5,2429 1078.5,2423" fill="#000"/>
<line x1="491" y1="1960" x2="1680.5" y2="1956.5" stroke="#1a1a1a" stroke-width="2" stroke-dasharray="9 5"/>
<polygon points="471,1960 479,1957.5 497,1955 497,1965 479,1962.5" fill="#000"/>
<text x="651.0" y="1474.5" font-size="52" text-anchor="start" font-family='"Liberation Sans", sans-serif' font-weight="normal" >75%</text>
<text x="616.0" y="1923.5" font-size="52" text-anchor="start" font-family='"Liberation Sans", sans-serif' font-weight="normal" >0%</text>
<text x="580.5" y="2196.0" font-size="52" text-anchor="start" font-family='"Liberation Sans", sans-serif' font-weight="normal" >4%</text>
<text x="684.0" y="2384.5" font-size="52" text-anchor="start" font-family='"Liberation Sans", sans-serif' font-weight="normal" >3%</text>
<text x="1446.0" y="1541.0" font-size="52" text-anchor="start" font-family='"Liberation Sans", sans-serif' font-weight="normal" >8%</text>
<text x="503" y="1925" font-size="43" text-anchor="start" font-family='"Liberation Sans", sans-serif' font-weight="normal" >I</text><text x="514" y="1939" font-size="28" text-anchor="start" font-family='"Liberation Sans", sans-serif' font-weight="normal" >dir</text>
<text x="1106.5" y="2380" font-size="43" text-anchor="start" font-family='"Liberation Sans", sans-serif' font-weight="normal" >U</text><text x="1140.5" y="2392.5" font-size="28" text-anchor="start" font-family='"Liberation Sans", sans-serif' font-weight="normal" >dir</text>
<text x="0" y="0" font-size="105" text-anchor="start" font-family='"Liberation Serif", serif' font-weight="bold" transform="translate(29,2455) scale(1,1)">b</text>
</g>
<g>
<rect x="441.25" y="2821" width="5.5" height="1047.75" fill="#000"/>
<rect x="434" y="3863.5" width="1289" height="5" fill="#000"/>
<rect x="421" y="2821.25" width="23" height="5.5" fill="#000"/>
<text x="407" y="2838.3" font-size="42" text-anchor="end" font-family='"Liberation Sans", sans-serif' font-weight="normal" >0.0002</text>
<rect x="421" y="3010.75" width="23" height="5.5" fill="#000"/>
<text x="407" y="3027.8" font-size="42" text-anchor="end" font-family='"Liberation Sans", sans-serif' font-weight="normal" >0.0001</text>
<rect x="421" y="3200.25" width="23" height="5.5" fill="#000"/>
<text x="407" y="3217.3" font-size="42" text-anchor="end" font-family='"Liberation Sans", sans-serif' font-weight="normal" >0.0000</text>
<rect x="421" y="3389.75" width="23" height="5.5" fill="#000"/>
<text x="407" y="3406.8" font-size="42" text-anchor="end" font-family='"Liberation Sans", sans-serif' font-weight="normal" >-0.0001</text>
<rect x="421" y="3579.25" width="23" height="5.5" fill="#000"/>
<text x="407" y="3596.3" font-size="42" text-anchor="end" font-family='"Liberation Sans", sans-serif' font-weight="normal" >-0.0002</text>
<rect x="421" y="3768.75" width="23" height="5.5" fill="#000"/>
<text x="407" y="3785.8" font-size="42" text-anchor="end" font-family='"Liberation Sans", sans-serif' font-weight="normal" >-0.0003</text>
<rect x="432" y="2916.0" width="12" height="5.5" fill="#000"/>
<rect x="432" y="3105.5" width="12" height="5.5" fill="#000"/>
<rect x="432" y="3295.0" width="12" height="5.5" fill="#000"/>
<rect x="432" y="3484.5" width="12" height="5.5" fill="#000"/>
<rect x="432" y="3674.0" width="12" height="5.5" fill="#000"/>
<rect x="491.25" y="3866" width="5.5" height="23" fill="#000"/>
<text x="494" y="3935.2" font-size="42" text-anchor="middle" font-family='"Liberation Sans", sans-serif' font-weight="normal" >-6</text>
<rect x="687.15" y="3866" width="5.5" height="23" fill="#000"/>
<text x="689.9" y="3935.2" font-size="42" text-anchor="middle" font-family='"Liberation Sans", sans-serif' font-weight="normal" >-4</text>
<rect x="882.95" y="3866" width="5.5" height="23" fill="#000"/>
<text x="885.7" y="3935.2" font-size="42" text-anchor="middle" font-family='"Liberation Sans", sans-serif' font-weight="normal" >-2</text>
<rect x="1078.75" y="3866" width="5.5" height="23" fill="#000"/>
<text x="1081.5" y="3935.2" font-size="42" text-anchor="middle" font-family='"Liberation Sans", sans-serif' font-weight="normal" >0</text>
<rect x="1274.55" y="3866" width="5.5" height="23" fill="#000"/>
<text x="1277.3" y="3935.2" font-size="42" text-anchor="middle" font-family='"Liberation Sans", sans-serif' font-weight="normal" >2</text>
<rect x="1470.35" y="3866" width="5.5" height="23" fill="#000"/>
<text x="1473.1" y="3935.2" font-size="42" text-anchor="middle" font-family='"Liberation Sans", sans-serif' font-weight="normal" >4</text>
<rect x="1666.25" y="3866" width="5.5" height="23" fill="#000"/>
<text x="1669" y="3935.2" font-size="42" text-anchor="middle" font-family='"Liberation Sans", sans-serif' font-weight="normal" >6</text>
<rect x="589.25" y="3866" width="5.5" height="13" fill="#000"/>
<rect x="785.05" y="3866" width="5.5" height="13" fill="#000"/>
<rect x="980.85" y="3866" width="5.5" height="13" fill="#000"/>
<rect x="1176.65" y="3866" width="5.5" height="13" fill="#000"/>
<rect x="1372.45" y="3866" width="5.5" height="13" fill="#000"/>
<rect x="1568.25" y="3866" width="5.5" height="13" fill="#000"/>
<text x="1081" y="4017.5" font-size="53" text-anchor="middle" font-family='"Liberation Sans", sans-serif' font-weight="normal" >Potential (V)</text>
<text x="0" y="0" font-size="53" text-anchor="middle" font-family='"Liberation Sans", sans-serif' font-weight="normal" transform="translate(244,3346) rotate(-90)">Current (A)</text>
<polyline points="496.0,3218.0 497.7,3218.0 499.2,3218.0 500.9,3217.9 502.5,3217.9 504.2,3217.9 506.2,3217.9 507.8,3217.8 509.5,3217.8 511.3,3217.8 513.3,3217.8 515.3,3217.8 517.4,3217.7 519.6,3217.7 521.1,3217.7 522.7,3217.7 524.3,3217.6 525.9,3217.6 527.6,3217.6 529.3,3217.6 531.0,3217.5 532.8,3217.5 534.6,3217.5 536.5,3217.5 538.4,3217.5 540.3,3217.4 542.3,3217.4 544.2,3217.4 546.3,3217.3 548.3,3217.3 550.4,3217.3 552.5,3217.3 554.6,3217.2 556.8,3217.2 559.0,3217.2 561.2,3217.2 563.4,3217.1 565.7,3217.1 568.0,3217.1 570.3,3217.0 572.6,3217.0 575.0,3217.0 577.3,3216.9 579.7,3216.9 582.2,3216.9 584.6,3216.8 587.1,3216.8 589.5,3216.8 592.0,3216.7 594.5,3216.7 597.1,3216.7 599.6,3216.6 602.1,3216.6 604.7,3216.6 607.3,3216.5 609.9,3216.5 612.5,3216.5 615.1,3216.4 617.7,3216.4 620.4,3216.4 623.0,3216.3 625.7,3216.3 628.3,3216.3 631.0,3216.2 633.7,3216.2 636.3,3216.2 639.0,3216.1 641.7,3216.1 644.4,3216.1 647.1,3216.0 649.8,3216.0 652.5,3215.9 655.2,3215.9 657.9,3215.9 660.6,3215.8 663.3,3215.8 666.0,3215.8 668.7,3215.7 671.3,3215.7 674.0,3215.7 676.7,3215.6 679.4,3215.6 682.1,3215.5 684.7,3215.5 687.4,3215.5 690.0,3215.4 692.6,3215.4 695.3,3215.4 697.9,3215.3 700.5,3215.3 703.1,3215.3 705.7,3215.2 708.2,3215.2 710.8,3215.2 713.3,3215.1 715.8,3215.1 718.3,3215.0 720.8,3215.0 723.3,3215.0 725.8,3214.9 728.2,3214.9 730.6,3214.9 733.0,3214.8 735.4,3214.8 737.7,3214.8 740.1,3214.7 742.4,3214.7 744.7,3214.7 746.9,3214.6 749.2,3214.6 751.4,3214.6 753.6,3214.5 755.7,3214.5 757.9,3214.5 760.0,3214.5 762.1,3214.4 764.1,3214.4 766.1,3214.4 768.1,3214.3 770.1,3214.3 772.0,3214.3 773.9,3214.2 775.7,3214.2 777.5,3214.2 779.3,3214.2 781.1,3214.1 782.8,3214.1 784.4,3214.1 786.1,3214.1 787.7,3214.0 789.2,3214.0 791.2,3214.0 793.7,3213.9 796.1,3213.9 798.4,3213.9 800.7,3213.8 803.0,3213.8 805.3,3213.8 807.5,3213.7 809.7,3213.7 811.8,3213.6 813.9,3213.6 816.0,3213.6 818.1,3213.5 820.1,3213.5 822.1,3213.5 824.1,3213.4 826.0,3213.4 828.0,3213.4 829.9,3213.3 831.8,3213.3 833.7,3213.3 835.6,3213.2 837.4,3213.2 839.3,3213.2 841.1,3213.1 843.0,3213.1 844.8,3213.1 846.6,3213.0 848.4,3213.0 850.2,3213.0 852.1,3212.9 853.9,3212.9 855.7,3212.9 857.5,3212.8 859.3,3212.8 861.1,3212.8 863.0,3212.7 864.8,3212.7 866.7,3212.7 868.5,3212.6 870.4,3212.6 872.3,3212.6 874.2,3212.5 876.1,3212.5 878.1,3212.4 880.0,3212.4 882.0,3212.4 884.0,3212.3 886.1,3212.3 888.1,3212.2 890.2,3212.2 892.3,3212.2 894.5,3212.1 896.7,3212.1 898.9,3212.0 900.9,3212.0 902.6,3211.9 904.4,3211.9 906.2,3211.9 908.0,3211.8 909.8,3211.8 911.6,3211.7 913.4,3211.7 915.2,3211.7 917.0,3211.6 918.9,3211.6 920.7,3211.5 922.6,3211.5 924.4,3211.4 926.3,3211.4 928.2,3211.3 930.0,3211.3 931.9,3211.2 933.8,3211.2 935.7,3211.1 937.6,3211.1 939.5,3211.0 941.5,3211.0 943.4,3210.9 945.3,3210.9 947.2,3210.8 949.2,3210.8 951.1,3210.7 953.1,3210.7 955.1,3210.6 957.0,3210.6 959.0,3210.5 961.0,3210.5 963.0,3210.4 965.0,3210.3 966.9,3210.3 968.9,3210.2 970.9,3210.2 973.0,3210.1 975.0,3210.1 977.0,3210.0 979.0,3210.0 981.0,3209.9 983.1,3209.8 985.1,3209.8 987.1,3209.7 989.2,3209.7 991.2,3209.6 993.3,3209.6 995.3,3209.5 997.4,3209.5 999.4,3209.4 1001.5,3209.4 1003.6,3209.3 1005.6,3209.3 1007.7,3209.2 1009.8,3209.2 1011.8,3209.1 1013.9,3209.1 1016.0,3209.0 1018.1,3209.0 1020.2,3208.9 1022.2,3208.9 1024.3,3208.8 1026.4,3208.8 1028.5,3208.7 1030.6,3208.7 1032.7,3208.7 1034.8,3208.6 1036.9,3208.6 1039.0,3208.5 1041.1,3208.5 1043.2,3208.5 1045.3,3208.4 1047.4,3208.4 1049.5,3208.4 1051.6,3208.3 1053.7,3208.3 1055.8,3208.3 1057.9,3208.2 1060.0,3208.2 1062.1,3208.2 1064.2,3208.2 1066.3,3208.1 1068.4,3208.1 1070.5,3208.1 1072.6,3208.1 1074.7,3208.0 1076.8,3208.0 1078.9,3208.0 1081.0,3208.0 1082.9,3208.0 1084.8,3208.0 1086.8,3208.0 1088.7,3208.0 1090.7,3207.9 1092.7,3207.9 1094.6,3207.9 1096.6,3207.9 1098.7,3207.9 1100.7,3207.9 1102.7,3207.9 1104.7,3207.9 1106.8,3207.9 1108.9,3207.9 1110.9,3207.9 1113.0,3207.9 1115.1,3207.9 1117.2,3207.9 1119.3,3207.9 1121.4,3207.9 1123.5,3207.9 1125.6,3207.9 1127.8,3207.9 1129.9,3208.0 1132.0,3208.0 1134.2,3208.0 1136.3,3208.0 1138.5,3208.0 1140.6,3208.0 1142.8,3208.0 1145.0,3208.0 1147.1,3208.0 1149.3,3208.0 1151.5,3208.1 1153.7,3208.1 1155.9,3208.1 1158.1,3208.1 1160.2,3208.1 1162.4,3208.1 1164.6,3208.2 1166.8,3208.2 1169.0,3208.2 1171.2,3208.2 1173.4,3208.2 1175.6,3208.2 1177.7,3208.3 1179.9,3208.3 1182.1,3208.3 1184.3,3208.3 1186.5,3208.4 1188.7,3208.4 1190.8,3208.4 1193.0,3208.4 1195.2,3208.4 1197.3,3208.5 1199.5,3208.5 1201.7,3208.5 1203.8,3208.5 1205.9,3208.6 1208.1,3208.6 1210.2,3208.6 1212.3,3208.6 1214.5,3208.7 1216.6,3208.7 1218.7,3208.7 1220.8,3208.7 1222.9,3208.8 1225.0,3208.8 1227.0,3208.8 1229.1,3208.9 1231.2,3208.9 1233.2,3208.9 1235.2,3208.9 1237.3,3209.0 1239.3,3209.0 1241.3,3209.0 1243.3,3209.1 1245.3,3209.1 1247.2,3209.1 1249.2,3209.1 1251.1,3209.2 1253.1,3209.2 1255.0,3209.2 1256.9,3209.3 1258.8,3209.3 1260.7,3209.3 1262.5,3209.3 1264.4,3209.4 1266.2,3209.4 1268.0,3209.4 1269.8,3209.5 1271.6,3209.5 1273.4,3209.5 1275.2,3209.6 1276.9,3209.6 1278.6,3209.6 1280.3,3209.6 1282.0,3209.7 1283.7,3209.7 1285.3,3209.7 1287.0,3209.8 1288.6,3209.8 1290.2,3209.8 1291.7,3209.8 1293.3,3209.9 1294.8,3209.9 1296.3,3209.9 1298.5,3210.0 1301.3,3210.0 1303.8,3210.1 1306.3,3210.2 1308.7,3210.3 1311.1,3210.4 1313.5,3210.5 1315.8,3210.6 1318.1,3210.7 1320.4,3210.9 1322.6,3211.0 1324.8,3211.1 1327.0,3211.3 1329.1,3211.4 1331.2,3211.6 1333.3,3211.7 1335.3,3211.9 1337.3,3212.0 1339.3,3212.1 1341.3,3212.2 1343.2,3212.4 1345.1,3212.5 1347.0,3212.5 1348.8,3212.6 1350.6,3212.7 1352.4,3212.7 1354.2,3212.8 1356.0,3212.8 1357.7,3212.8 1359.4,3212.8 1361.1,3212.7 1362.8,3212.6 1364.4,3212.5 1366.0,3212.4 1367.6,3212.3 1369.2,3212.1 1371.2,3211.8 1373.4,3211.5 1375.5,3211.0 1377.5,3210.5 1379.5,3210.0 1381.3,3209.4 1383.1,3208.8 1384.9,3208.1 1386.7,3207.5 1388.4,3206.8 1390.2,3206.1 1392.0,3205.5 1393.9,3204.8 1395.8,3204.2 1397.9,3203.6 1400.0,3203.0 1401.8,3202.6 1403.5,3202.1 1405.4,3201.7 1407.2,3201.2 1409.1,3200.8 1411.0,3200.3 1412.9,3199.9 1414.9,3199.4 1416.9,3199.0 1418.9,3198.5 1420.9,3198.1 1422.9,3197.6 1424.9,3197.2 1427.0,3196.8 1429.1,3196.4 1431.1,3196.0 1433.2,3195.6 1435.3,3195.2 1437.4,3194.8 1439.5,3194.5 1441.6,3194.1 1443.7,3193.8 1445.8,3193.5 1447.9,3193.3 1450.0,3193.0 1451.9,3192.8 1453.8,3192.6 1455.7,3192.4 1457.6,3192.3 1459.6,3192.1 1461.5,3192.0 1463.4,3191.9 1465.3,3191.8 1467.2,3191.8 1469.1,3191.7 1471.1,3191.6 1473.0,3191.6 1474.9,3191.6 1476.9,3191.5 1478.9,3191.5 1480.8,3191.5 1482.8,3191.5 1484.8,3191.4 1486.8,3191.4 1488.9,3191.4 1490.9,3191.4 1493.0,3191.4 1495.1,3191.3 1497.2,3191.3 1499.3,3191.3 1501.4,3191.2 1503.6,3191.1 1505.8,3191.1 1508.0,3191.0 1509.8,3190.9 1511.6,3190.9 1513.4,3190.8 1515.3,3190.7 1517.2,3190.6 1519.1,3190.5 1521.0,3190.5 1522.9,3190.4 1524.9,3190.3 1526.8,3190.2 1528.8,3190.1 1530.8,3190.0 1532.8,3189.9 1534.9,3189.8 1536.9,3189.8 1539.0,3189.7 1541.0,3189.6 1543.1,3189.5 1545.2,3189.4 1547.2,3189.3 1549.3,3189.2 1551.4,3189.1 1553.5,3189.0 1555.6,3188.9 1557.7,3188.8 1559.8,3188.7 1561.9,3188.6 1564.0,3188.5 1566.1,3188.4 1568.1,3188.3 1570.2,3188.2 1572.3,3188.1 1574.4,3188.0 1576.4,3188.0 1578.5,3187.9 1580.5,3187.8 1582.5,3187.7 1584.5,3187.6 1586.5,3187.5 1588.5,3187.4 1590.5,3187.4 1592.4,3187.3 1594.3,3187.2 1596.2,3187.1 1598.1,3187.1 1600.0,3187.0 1602.2,3186.9 1604.5,3186.8 1606.8,3186.8 1609.3,3186.7 1611.8,3186.6 1614.3,3186.5 1616.9,3186.4 1619.5,3186.4 1622.2,3186.3 1624.8,3186.2 1627.5,3186.1 1630.2,3186.0 1632.8,3186.0 1635.5,3185.9 1638.1,3185.8 1640.6,3185.8 1643.1,3185.7 1645.6,3185.6 1648.0,3185.6 1650.3,3185.5 1652.5,3185.4 1654.6,3185.4 1656.6,3185.3 1658.5,3185.3 1660.2,3185.2 1661.9,3185.2 1664.1,3185.1 1665.9,3185.1 1667.7,3185.0 1669.0,3185.0" fill="none" stroke="#4f4f4f" stroke-width="2" marker-start="url(#sq)" marker-mid="url(#sq)" marker-end="url(#sq)"/>
<polyline points="496.0,3657.0 497.4,3663.8 498.8,3670.4 500.6,3677.0 502.3,3683.0 503.9,3687.8 505.5,3691.2 507.2,3693.9 509.2,3696.9 511.4,3699.5 513.6,3701.2 515.7,3701.4 517.7,3700.1 519.6,3697.7 521.5,3694.6 523.4,3691.2 525.0,3687.9 526.5,3683.9 528.2,3678.4 529.8,3672.4 531.4,3666.0 533.1,3659.5 534.6,3654.2 536.3,3649.1 537.9,3644.5 539.6,3639.9 541.4,3635.2 543.2,3630.5 545.0,3625.7 546.6,3621.9 548.1,3618.0 549.7,3614.2 551.4,3610.4 553.0,3606.6 554.7,3602.8 556.4,3599.1 558.1,3595.5 559.9,3591.9 561.7,3588.3 563.5,3584.7 565.3,3581.1 567.2,3577.5 569.1,3574.0 571.0,3570.4 573.0,3566.8 575.0,3563.3 577.0,3559.7 578.5,3557.1 580.0,3554.4 581.5,3551.8 583.0,3549.1 584.5,3546.5 586.0,3543.9 587.5,3541.3 589.0,3538.7 590.6,3536.1 592.1,3533.5 593.6,3530.9 595.2,3528.3 596.8,3525.7 598.3,3523.1 599.9,3520.5 601.6,3517.9 603.2,3515.3 604.8,3512.8 606.5,3510.2 608.2,3507.6 610.0,3505.1 611.7,3502.5 613.5,3500.0 615.2,3497.6 617.0,3495.2 618.7,3492.8 620.5,3490.5 622.4,3488.1 624.2,3485.7 626.1,3483.4 628.0,3481.0 629.9,3478.7 631.8,3476.4 633.7,3474.0 635.6,3471.7 637.6,3469.4 639.6,3467.0 641.5,3464.7 643.5,3462.4 645.5,3460.1 647.4,3457.7 649.4,3455.4 651.4,3453.1 653.3,3450.8 655.3,3448.5 657.2,3446.2 659.2,3443.9 661.1,3441.6 663.0,3439.3 665.0,3437.0 666.9,3434.7 668.9,3432.4 670.8,3430.1 672.8,3427.8 674.8,3425.5 676.7,3423.2 678.7,3420.9 680.7,3418.7 682.8,3416.4 684.8,3414.1 686.8,3411.9 688.9,3409.6 691.0,3407.4 693.1,3405.2 695.2,3402.9 697.3,3400.7 699.4,3398.6 701.5,3396.4 703.7,3394.3 705.9,3392.1 708.1,3390.0 710.3,3387.8 712.5,3385.7 714.0,3384.3 715.5,3382.8 717.1,3381.4 718.6,3380.0 720.1,3378.6 721.6,3377.2 723.2,3375.8 724.7,3374.4 726.2,3373.0 727.7,3371.6 729.3,3370.2 730.8,3368.8 732.3,3367.5 733.8,3366.1 735.3,3364.8 736.8,3363.5 739.1,3361.5 741.3,3359.5 743.5,3357.6 745.7,3355.7 747.9,3353.8 750.0,3352.0 751.6,3350.6 753.3,3349.2 754.9,3347.8 756.6,3346.5 758.3,3345.2 759.9,3343.8 761.6,3342.5 763.2,3341.3 764.8,3340.0 766.5,3338.7 768.1,3337.5 769.7,3336.2 771.3,3335.0 772.9,3333.8 774.5,3332.6 776.0,3331.3 777.6,3330.1 779.1,3328.9 780.6,3327.7 782.9,3326.0 785.1,3324.2 787.2,3322.4 789.3,3320.6 790.8,3319.3 792.5,3317.8 794.0,3316.3 795.6,3314.9 797.1,3313.4 799.3,3311.2 801.5,3309.0 803.6,3306.9 805.7,3304.8 807.8,3302.7 809.9,3300.6 812.0,3298.6 814.2,3296.6 815.8,3295.3 817.4,3294.0 819.0,3292.7 820.6,3291.5 822.2,3290.2 823.8,3289.0 825.4,3287.8 827.0,3286.6 828.6,3285.4 830.3,3284.2 831.9,3283.0 833.5,3281.8 835.1,3280.6 836.8,3279.4 838.4,3278.2 840.0,3277.0 841.6,3275.8 843.2,3274.5 844.8,3273.3 846.4,3272.1 848.0,3270.8 849.7,3269.6 851.3,3268.3 852.9,3267.1 854.5,3265.8 856.1,3264.6 857.7,3263.4 859.3,3262.2 860.9,3261.0 862.6,3259.8 864.2,3258.6 865.8,3257.4 867.5,3256.2 869.1,3255.0 870.8,3253.8 872.4,3252.7 874.1,3251.5 875.8,3250.3 877.4,3249.2 879.1,3248.0 880.7,3246.9 882.4,3245.8 884.1,3244.7 885.8,3243.6 887.5,3242.5 889.2,3241.5 890.9,3240.5 892.6,3239.4 894.4,3238.4 896.2,3237.4 897.9,3236.4 899.7,3235.5 901.5,3234.5 903.3,3233.6 905.1,3232.7 906.9,3231.8 908.7,3230.9 910.5,3230.0 912.3,3229.2 914.1,3228.4 915.9,3227.6 917.8,3226.8 919.6,3226.0 921.4,3225.2 923.1,3224.5 924.9,3223.8 926.7,3223.1 928.6,3222.4 930.4,3221.7 932.4,3221.1 934.4,3220.5 936.6,3219.9 938.8,3219.3 940.8,3218.8 942.4,3218.5 944.0,3218.1 945.7,3217.8 947.5,3217.5 949.2,3217.2 951.0,3216.9 952.9,3216.6 954.8,3216.3 956.7,3216.1 958.7,3215.8 960.6,3215.6 962.6,3215.4 964.7,3215.1 966.7,3214.9 968.8,3214.7 970.9,3214.5 973.0,3214.3 975.1,3214.1 977.3,3213.9 979.4,3213.7 981.6,3213.5 983.7,3213.3 985.9,3213.2 988.1,3213.0 990.2,3212.8 992.4,3212.6 994.6,3212.4 996.8,3212.3 998.9,3212.1 1000.9,3211.9 1002.8,3211.8 1004.7,3211.7 1006.6,3211.5 1008.5,3211.4 1010.4,3211.3 1012.4,3211.2 1014.3,3211.1 1016.3,3211.1 1018.3,3211.0 1020.3,3210.9 1022.3,3210.8 1024.3,3210.8 1026.3,3210.7 1028.4,3210.7 1030.4,3210.6 1032.5,3210.6 1034.5,3210.5 1036.6,3210.5 1038.6,3210.4 1040.7,3210.4 1042.7,3210.3 1044.8,3210.2 1046.9,3210.2 1048.9,3210.1 1051.0,3210.0 1053.0,3210.0 1055.1,3209.9 1057.1,3209.8 1059.2,3209.7 1061.2,3209.6 1063.2,3209.5 1065.3,3209.4 1067.3,3209.2 1069.3,3209.1 1071.3,3209.0 1073.2,3208.8 1075.2,3208.6 1077.1,3208.4 1079.1,3208.2 1081.0,3208.0 1083.1,3207.8 1085.1,3207.5 1087.2,3207.2 1089.2,3207.0 1091.3,3206.7 1093.3,3206.4 1095.4,3206.1 1097.4,3205.8 1099.5,3205.5 1101.5,3205.2 1103.6,3204.9 1105.6,3204.5 1107.6,3204.2 1109.6,3203.8 1111.6,3203.5 1113.7,3203.1 1115.7,3202.8 1117.7,3202.4 1119.6,3202.0 1121.6,3201.6 1123.6,3201.2 1125.5,3200.8 1127.5,3200.4 1129.4,3200.0 1131.4,3199.6 1133.3,3199.1 1135.2,3198.7 1137.1,3198.3 1139.0,3197.8 1140.8,3197.4 1142.7,3196.9 1144.5,3196.4 1146.4,3196.0 1148.2,3195.5 1150.0,3195.0 1152.1,3194.4 1154.1,3193.9 1156.1,3193.3 1158.1,3192.7 1160.0,3192.0 1162.0,3191.4 1163.9,3190.8 1165.8,3190.1 1167.7,3189.5 1169.6,3188.8 1171.5,3188.2 1173.3,3187.5 1175.2,3186.8 1177.0,3186.1 1178.8,3185.4 1180.7,3184.7 1182.5,3184.0 1184.3,3183.3 1186.2,3182.5 1188.0,3181.8 1189.8,3181.1 1191.7,3180.3 1193.5,3179.6 1195.3,3178.9 1197.2,3178.1 1199.1,3177.4 1200.9,3176.6 1202.8,3175.9 1204.7,3175.1 1206.5,3174.4 1208.4,3173.6 1210.3,3172.9 1212.1,3172.1 1214.0,3171.4 1215.9,3170.6 1217.7,3169.8 1219.6,3169.1 1221.4,3168.3 1223.3,3167.5 1225.2,3166.7 1227.0,3165.9 1228.9,3165.1 1230.7,3164.3 1232.6,3163.5 1234.4,3162.6 1236.3,3161.8 1238.1,3160.9 1239.9,3160.0 1241.8,3159.2 1243.6,3158.3 1245.4,3157.3 1247.3,3156.4 1249.1,3155.5 1250.9,3154.5 1252.6,3153.6 1254.4,3152.7 1256.1,3151.7 1257.9,3150.7 1259.6,3149.8 1261.4,3148.8 1263.1,3147.8 1264.9,3146.8 1266.6,3145.8 1268.3,3144.7 1270.1,3143.7 1271.8,3142.7 1273.5,3141.6 1275.3,3140.6 1277.0,3139.5 1278.7,3138.4 1280.4,3137.3 1282.2,3136.2 1283.9,3135.1 1285.6,3134.0 1287.3,3132.8 1289.0,3131.7 1290.7,3130.5 1292.4,3129.4 1294.1,3128.2 1295.8,3127.0 1297.5,3125.8 1299.2,3124.6 1300.8,3123.4 1302.4,3122.3 1304.0,3121.1 1305.6,3119.8 1307.3,3118.6 1308.9,3117.3 1310.6,3116.0 1312.2,3114.7 1313.9,3113.4 1315.6,3112.1 1317.2,3110.7 1318.9,3109.4 1320.5,3108.0 1322.2,3106.7 1323.8,3105.3 1325.5,3103.9 1327.1,3102.6 1328.7,3101.2 1330.3,3099.8 1331.9,3098.5 1333.4,3097.1 1335.0,3095.7 1336.5,3094.4 1338.7,3092.4 1340.9,3090.5 1343.0,3088.6 1345.0,3086.7 1347.0,3084.9 1348.8,3083.1 1350.9,3081.2 1352.5,3079.5 1354.1,3077.8 1355.7,3076.1 1357.8,3073.6 1359.9,3071.2 1361.8,3068.8 1363.7,3066.6 1365.6,3064.4 1367.5,3062.4 1369.4,3060.6 1370.9,3059.2 1372.7,3057.5 1374.4,3055.9 1376.2,3054.4 1377.9,3053.0 1379.6,3052.0 1381.3,3051.3 1383.0,3051.0 1384.8,3051.2 1386.5,3051.9 1388.3,3053.0 1390.1,3054.3 1391.9,3055.8 1393.6,3057.5 1395.2,3059.2 1397.2,3061.4 1398.8,3063.7 1400.7,3067.2 1402.6,3070.9 1404.6,3074.7 1406.2,3077.4 1408.0,3080.0 1409.8,3082.3 1411.8,3084.6 1413.8,3087.0 1415.9,3089.4 1418.1,3091.6 1420.3,3093.8 1421.8,3095.2 1423.4,3096.6 1424.9,3097.8 1426.5,3099.0 1428.0,3100.0 1429.8,3101.1 1431.6,3102.1 1433.5,3103.1 1435.4,3103.9 1437.3,3104.7 1439.3,3105.3 1441.2,3105.9 1443.1,3106.5 1445.1,3106.9 1447.0,3107.3 1449.0,3107.7 1451.0,3107.9 1453.0,3108.0 1455.0,3108.1 1457.0,3108.1 1459.1,3108.0 1461.1,3107.8 1463.1,3107.6 1465.1,3107.4 1467.0,3107.1 1469.0,3106.8 1471.1,3106.5 1473.1,3106.1 1475.0,3105.6 1477.0,3105.0 1479.0,3104.5 1481.0,3103.8 1483.0,3103.1 1485.0,3102.4 1486.9,3101.7 1488.7,3100.9 1490.5,3100.2 1492.3,3099.4 1494.2,3098.6 1496.0,3097.8 1497.9,3096.9 1499.7,3095.9 1501.6,3094.9 1503.4,3093.9 1505.3,3092.8 1507.1,3091.6 1508.8,3090.5 1510.3,3089.4 1511.8,3088.2 1513.4,3087.0 1514.9,3085.8 1516.4,3084.5 1517.9,3083.1 1519.4,3081.8 1520.9,3080.4 1522.5,3079.0 1524.0,3077.5 1525.5,3076.1 1527.0,3074.7 1528.5,3073.2 1530.0,3071.8 1531.5,3070.4 1533.0,3069.0 1535.2,3067.0 1537.3,3064.9 1539.4,3062.8 1541.4,3060.8 1543.5,3058.7 1545.6,3056.6 1547.7,3054.5 1549.9,3052.4 1551.4,3050.9 1553.0,3049.5 1554.6,3048.0 1556.3,3046.5 1558.0,3045.0 1560.0,3043.3 1562.1,3041.6 1564.3,3039.8 1565.9,3038.6 1567.4,3037.4 1569.0,3036.2 1570.6,3035.0 1572.2,3033.8 1573.9,3032.5 1575.6,3031.3 1577.3,3030.1 1579.0,3028.8 1580.7,3027.5 1582.4,3026.3 1584.1,3025.0 1585.9,3023.8 1587.6,3022.5 1589.3,3021.3 1591.0,3020.0 1592.7,3018.8 1594.4,3017.6 1596.1,3016.3 1597.8,3015.1 1599.4,3013.9 1601.1,3012.7 1602.7,3011.5 1604.2,3010.4 1605.8,3009.2 1607.3,3008.1 1608.9,3006.8 1610.6,3005.5 1612.3,3004.2 1614.0,3002.8 1615.7,3001.5 1617.3,3000.2 1619.0,2998.9 1620.6,2997.6 1622.2,2996.3 1623.9,2995.0 1625.4,2993.7 1627.0,2992.4 1628.6,2991.2 1630.2,2989.9 1631.7,2988.7 1633.2,2987.5 1634.8,2986.3 1636.3,2985.1 1637.8,2983.9 1640.0,2982.2 1642.3,2980.5 1643.9,2979.3 1645.9,2977.9 1648.0,2976.4 1650.1,2974.9 1652.3,2973.3 1654.6,2971.7 1656.7,2970.2 1658.8,2968.8 1660.8,2967.4 1662.7,2966.1 1664.3,2965.0 1666.3,2963.7 1667.8,2962.6 1668.0,2962.5" fill="none" stroke="#d9534f" stroke-width="2" marker-start="url(#ci)" marker-mid="url(#ci)" marker-end="url(#ci)"/>
<polyline points="496.0,3723.0 500.0,3673.0 502.5,3632.0 506.0,3611.5 509.4,3584.0 513.0,3569.6 516.0,3549.0" fill="none" stroke="#4674ba" stroke-width="2" marker-start="url(#up)" marker-mid="url(#up)" marker-end="url(#up)"/>
<polyline points="516.0,3549.0 517.8,3542.8 519.4,3535.9 521.0,3528.4 522.6,3523.4 524.4,3516.9 526.1,3512.2 527.9,3505.7 529.4,3500.0 531.1,3496.3 532.8,3492.5 534.6,3485.6 536.4,3482.9 538.0,3476.6 539.6,3473.7 541.2,3469.9 542.9,3467.8 544.7,3464.8 546.5,3460.6 548.4,3455.8 550.4,3453.9 551.9,3449.6 553.4,3446.8 555.0,3446.2 556.7,3442.8 558.4,3440.3 560.1,3437.6 561.9,3436.0 563.8,3431.9 565.6,3430.5 567.5,3427.7 569.4,3425.8 571.4,3422.2 573.4,3420.8 575.4,3418.1 577.5,3415.1 579.7,3412.7 581.9,3412.0 583.4,3409.0 585.0,3410.2 586.6,3406.8 588.1,3405.3 589.8,3404.5 591.4,3405.9 593.1,3403.2 594.8,3401.6 596.6,3400.3 598.4,3399.4 600.2,3400.3 602.1,3399.1 604.0,3398.2 605.8,3397.3 607.3,3394.4 608.9,3395.0 610.5,3393.4 612.1,3393.8 613.7,3392.9 615.4,3392.1 617.1,3388.7 618.8,3390.1 620.6,3389.2 622.4,3388.3 624.2,3384.8 626.0,3384.0 627.8,3382.7 629.6,3381.4 631.5,3382.8 633.4,3381.7 635.3,3380.1 637.1,3379.6 639.0,3377.9 640.8,3375.9 642.4,3374.4 644.1,3373.5 645.7,3374.6 647.4,3372.0 649.1,3371.4 650.8,3370.8 652.5,3368.7 654.3,3368.4 656.0,3367.5 657.8,3367.9 659.5,3365.9 661.3,3364.8 663.1,3365.7 664.9,3363.4 666.7,3363.4 668.5,3361.8 670.3,3359.0 672.1,3359.2 673.9,3358.3 675.7,3358.3 677.5,3356.0 679.3,3356.1 681.1,3354.6 682.9,3352.6 684.7,3353.6 686.5,3350.3 688.2,3351.5 690.0,3348.5 691.7,3347.0 693.5,3346.6 695.2,3347.3 696.9,3346.9 698.6,3343.0 700.4,3343.4 702.1,3342.4 703.8,3342.3 705.5,3339.4 707.2,3339.3 709.0,3337.8 710.7,3338.3 712.4,3335.5 714.1,3336.5 715.8,3333.5 717.6,3332.3 719.3,3332.7 721.0,3331.0 722.7,3328.8 724.4,3329.4 726.2,3326.7 727.9,3327.8 729.6,3326.5 731.3,3325.8 733.1,3324.3 734.8,3322.5 736.5,3321.6 738.3,3320.7 740.0,3321.2 741.8,3317.8 743.6,3319.2 745.3,3315.7 747.1,3315.3 748.9,3314.5 750.7,3315.5 752.5,3313.4 754.3,3312.2 756.1,3312.8 757.9,3309.9 759.7,3309.7 761.5,3309.0 763.3,3308.8 765.0,3307.9 766.8,3306.7 768.6,3304.9 770.4,3304.0 772.2,3302.6 774.0,3303.7 775.8,3302.3 777.6,3301.6 779.4,3298.9 781.2,3298.8 782.9,3298.8 784.7,3297.3 786.5,3294.9 788.2,3294.9 790.0,3295.2 791.7,3292.2 793.4,3291.0 795.1,3290.3 796.9,3290.4 798.6,3289.8 800.3,3286.6 802.0,3285.5 803.6,3284.7 805.3,3283.8 807.0,3283.2 808.7,3281.0 810.4,3280.3 812.1,3278.8 813.8,3280.0 815.5,3278.1 817.1,3275.0 818.8,3276.4 820.5,3272.7 822.2,3272.4 823.9,3273.0 825.6,3271.3 827.3,3270.0 829.0,3268.0 830.6,3266.1 832.3,3266.3 834.0,3263.6 835.7,3262.8 837.4,3262.3 839.1,3260.1 840.9,3260.2 842.6,3260.3 844.3,3258.9 846.1,3257.2 847.8,3256.5 849.6,3254.9 851.3,3252.8 853.0,3253.1 854.8,3251.4 856.5,3251.3 858.2,3250.8 860.0,3248.2 861.7,3247.6 863.5,3247.1 865.2,3245.0 867.0,3243.4 868.7,3243.8 870.5,3243.3 872.2,3241.9 874.0,3240.7 875.8,3240.2 877.5,3238.7 879.3,3237.7 881.1,3236.2 882.8,3234.8 884.6,3234.9 886.4,3232.4 888.2,3232.6 890.0,3232.8 891.9,3231.8 893.8,3230.8 895.6,3228.8 897.5,3228.6 899.4,3227.9 901.3,3227.7 903.1,3226.4 905.0,3226.5 906.9,3226.6 908.8,3223.7 910.7,3224.4 912.6,3224.2 914.5,3222.4 916.4,3222.1 918.3,3223.0 920.2,3219.6 922.2,3220.5 924.1,3218.9 926.1,3220.2 928.0,3220.2 930.0,3218.4 932.0,3216.6 934.0,3217.6 936.0,3217.0 938.0,3217.1 940.0,3216.0 941.9,3216.0 943.8,3216.2 945.7,3215.0 947.6,3214.3 949.5,3215.6 951.4,3213.1 953.4,3214.3 955.3,3213.2 957.3,3214.0 959.2,3211.9 961.2,3214.3 963.1,3212.2 965.1,3211.1 967.1,3211.6 969.1,3211.8 971.1,3210.5 973.1,3211.5 975.1,3211.3 977.1,3212.0 979.1,3210.8 981.2,3210.4 983.2,3210.0 985.3,3211.4 987.4,3211.8 989.4,3210.4 991.5,3209.2 993.6,3210.7 995.7,3209.2 997.9,3208.4 1000.0,3207.9 1001.8,3209.6 1003.7,3209.4 1005.6,3208.5 1007.5,3207.7 1009.5,3207.7 1011.5,3206.3 1013.4,3208.2 1015.4,3206.0 1017.5,3206.4 1019.5,3206.6 1021.5,3206.2 1023.6,3204.7 1025.6,3203.8 1027.7,3204.2 1029.8,3202.5 1031.9,3204.2 1033.9,3202.3 1036.0,3203.4 1038.1,3201.2 1040.2,3201.1 1042.3,3200.4 1044.3,3200.5 1046.4,3199.4 1048.5,3198.5 1050.5,3200.2 1052.6,3198.6 1054.6,3198.1 1056.6,3197.9 1058.6,3198.1 1060.6,3197.7 1062.6,3198.0 1064.5,3197.8 1066.4,3196.7 1068.3,3198.2 1070.2,3197.7 1072.0,3195.2 1073.9,3197.3 1075.7,3197.4 1077.4,3197.0 1079.1,3194.9 1081.1,3197.0 1083.3,3196.4 1085.4,3194.6 1087.4,3194.6 1089.3,3197.6 1091.2,3196.9 1093.0,3195.9 1094.8,3195.7 1096.6,3196.0 1098.4,3196.6 1100.1,3198.5 1101.9,3197.5 1103.7,3197.3 1105.5,3199.9 1107.3,3199.8 1109.2,3198.3 1111.2,3200.8 1113.2,3200.2 1115.4,3201.0 1117.6,3200.9 1120.0,3201.8 1122.4,3201.7 1125.0,3202.0 1127.1,3200.2 1129.2,3201.8 1131.5,3201.4 1133.0,3202.1 1134.6,3201.3 1136.3,3202.7 1137.9,3201.8 1139.6,3201.0 1141.3,3201.0 1143.1,3200.8 1144.9,3201.9 1146.8,3200.7 1148.6,3202.0 1150.5,3201.1 1152.4,3202.2 1154.4,3202.3 1156.3,3202.5 1158.3,3203.5 1160.4,3201.0 1162.4,3203.6 1164.5,3202.5 1166.6,3202.9 1168.7,3203.2 1170.8,3203.8 1173.0,3202.5 1175.2,3202.7 1177.3,3204.3 1179.5,3201.7 1181.8,3203.5 1184.0,3203.5 1186.2,3201.7 1188.5,3203.5 1190.8,3203.8 1193.0,3204.6 1195.3,3202.8 1197.6,3204.8 1199.9,3203.4 1202.2,3203.4 1204.5,3204.6 1206.8,3202.1 1209.1,3204.2 1211.5,3203.9 1213.8,3203.1 1216.1,3204.7 1218.4,3203.2 1220.7,3203.5 1223.0,3203.7 1225.3,3204.4 1227.6,3202.7 1229.9,3203.4 1232.2,3203.4 1234.5,3203.8 1236.8,3204.6 1239.0,3203.0 1241.3,3204.5 1243.5,3203.3 1245.7,3203.5 1247.9,3202.8 1250.1,3203.5 1252.3,3204.9 1254.5,3203.9 1256.6,3204.2 1258.7,3202.8 1260.8,3202.7 1262.9,3202.6 1265.0,3203.4 1267.0,3203.5 1269.0,3203.9 1271.0,3201.6 1273.0,3203.5 1274.9,3203.9 1276.8,3202.8 1278.7,3201.3 1280.5,3201.9 1282.4,3200.9 1284.1,3201.4 1285.9,3203.5 1287.6,3202.4 1289.3,3202.4 1290.9,3202.7 1292.5,3202.9 1294.1,3201.9 1295.6,3201.8 1297.9,3201.6 1300.0,3201.6 1302.5,3201.0 1305.0,3201.0 1307.3,3199.2 1309.6,3200.3 1311.8,3199.3 1314.0,3199.9 1316.1,3197.6 1318.1,3197.5 1320.1,3196.7 1322.0,3198.6 1323.9,3198.6 1325.8,3197.4 1327.6,3196.1 1329.4,3197.1 1331.2,3196.5 1332.9,3195.4 1334.7,3194.0 1336.4,3193.6 1338.2,3193.4 1340.0,3192.5 1341.7,3192.3 1343.5,3192.3 1345.3,3192.5 1347.2,3189.2 1349.0,3190.1 1350.9,3187.8 1352.7,3187.3 1354.5,3188.6 1356.3,3187.1 1358.1,3187.3 1359.8,3185.1 1361.6,3182.9 1363.4,3183.2 1365.2,3182.9 1366.9,3183.0 1368.7,3182.2 1370.4,3179.7 1372.2,3178.5 1373.9,3176.6 1375.7,3177.2 1377.4,3174.9 1379.2,3173.6 1380.9,3172.2 1382.6,3171.1 1384.4,3172.1 1386.1,3169.3 1387.9,3170.8 1389.6,3167.1 1391.3,3168.4 1393.1,3165.1 1394.8,3163.7 1396.5,3164.8 1398.3,3162.3 1400.0,3162.7 1401.7,3160.0 1403.4,3158.6 1405.1,3159.7 1406.8,3158.5 1408.5,3157.9 1410.2,3156.4 1411.9,3153.4 1413.6,3154.0 1415.2,3153.2 1416.9,3151.3 1418.6,3151.7 1420.3,3148.6 1421.9,3149.6 1423.6,3147.8 1425.3,3144.5 1427.0,3143.4 1428.6,3144.2 1430.3,3143.6 1432.0,3140.3 1433.7,3139.9 1435.4,3140.0 1437.1,3137.2 1438.8,3138.1 1440.5,3135.8 1442.2,3133.4 1443.9,3133.2 1445.7,3132.6 1447.4,3131.1 1449.1,3130.6 1450.8,3127.9 1452.4,3128.8 1454.0,3126.3 1455.6,3126.0 1457.3,3124.8 1458.9,3123.0 1460.5,3121.7 1462.2,3121.7 1463.8,3121.0 1465.5,3119.3 1467.1,3117.4 1468.8,3115.3 1470.4,3113.4 1472.1,3114.9 1473.8,3112.8 1475.4,3111.9 1477.1,3109.2 1478.8,3108.8 1480.5,3108.6 1482.1,3107.0 1483.8,3105.1 1485.5,3103.0 1487.1,3102.2 1488.8,3102.4 1490.5,3099.7 1492.2,3099.5 1493.8,3098.1 1495.5,3097.9 1497.2,3096.6 1498.9,3094.0 1500.5,3092.1 1502.2,3091.9 1503.9,3091.5 1505.5,3091.0 1507.2,3090.9 1509.0,3090.2 1510.9,3086.7 1512.8,3088.2 1514.7,3087.3 1516.7,3086.7 1518.6,3085.1 1520.5,3083.4 1522.4,3084.5 1524.4,3083.7 1526.3,3082.7 1528.2,3082.7 1530.1,3080.4 1532.1,3079.1 1534.0,3079.9 1535.9,3080.1 1537.8,3077.7 1539.7,3078.8 1541.7,3078.8 1543.6,3076.2 1545.5,3076.7 1547.4,3076.4 1549.4,3075.2 1551.3,3073.8 1553.2,3073.3 1555.1,3074.2 1557.0,3073.7 1559.0,3072.0 1560.9,3070.3 1562.8,3071.8 1564.7,3071.0 1566.6,3068.7 1568.5,3069.1 1570.4,3069.4 1572.3,3068.7 1574.2,3067.0 1576.1,3066.2 1578.0,3065.9 1579.9,3064.0 1581.8,3063.4 1583.7,3062.7 1585.6,3063.6 1587.5,3061.9 1589.4,3061.8 1591.3,3060.7 1593.3,3060.3 1595.2,3058.5 1597.1,3057.5 1599.1,3059.7 1601.1,3057.1 1603.0,3055.6 1605.0,3056.5 1607.0,3056.2 1608.9,3053.6 1610.8,3054.3 1612.9,3052.8 1615.0,3052.5 1617.2,3050.2 1619.5,3049.4 1621.8,3051.4 1624.2,3050.1 1626.7,3048.1 1629.1,3047.4 1631.6,3045.5 1634.1,3046.1 1636.6,3044.1 1639.1,3044.8 1641.6,3043.3 1644.0,3042.6 1646.3,3042.1 1648.6,3039.1 1650.9,3037.6 1653.0,3037.3 1655.1,3036.5 1657.0,3035.4 1658.8,3034.6 1660.5,3035.5 1662.1,3035.9 1664.1,3033.9 1665.7,3034.7 1667.3,3034.0 1668.0,3032.5" fill="none" stroke="#4674ba" stroke-width="2" marker-start="url(#up)" marker-mid="url(#up)" marker-end="url(#up)"/>
<polyline points="496.0,3350.0 498.4,3348.4 500.8,3349.8 503.4,3349.2 505.9,3348.6 507.8,3351.7 509.5,3350.4 511.2,3352.4 512.9,3353.8 514.6,3356.1 516.2,3356.7 517.8,3357.4 519.3,3359.1 521.2,3360.5 522.9,3365.5 524.8,3369.3 526.3,3369.7 528.0,3371.6 530.0,3374.3 531.7,3375.7 533.4,3378.2 535.2,3379.0 537.2,3379.4 539.2,3377.5 541.4,3380.2 543.8,3380.4 545.8,3380.6 547.4,3381.9 549.0,3379.4 550.8,3380.1 552.6,3382.2 554.5,3383.1 556.4,3382.7 558.4,3381.8 560.5,3383.0 562.6,3383.8 564.7,3382.0 566.8,3382.9 568.9,3382.8 571.1,3382.4 573.3,3383.5 575.4,3382.5 577.6,3382.5 579.7,3382.0 581.9,3383.2 584.0,3380.8 585.8,3382.4 587.5,3380.3 589.1,3379.2 590.8,3381.2 592.4,3378.4 594.1,3379.7 595.8,3378.6 597.4,3377.7 599.1,3374.5 600.8,3374.4 602.5,3372.2 604.2,3373.6 605.9,3372.1 607.6,3370.3 609.4,3368.5 611.1,3366.9 612.8,3367.1 614.5,3364.7 616.2,3363.9 617.9,3361.1 619.7,3360.0 621.4,3358.2 623.1,3358.8 624.8,3357.0 626.5,3354.5 628.2,3355.4 629.9,3352.3 631.6,3351.5 633.3,3349.5 635.0,3348.6 636.7,3349.2 638.3,3346.6 640.0,3345.0 641.8,3344.9 643.5,3343.3 645.2,3343.9 647.0,3340.5 648.7,3342.0 650.5,3338.2 652.2,3339.7 653.9,3338.0 655.6,3335.5 657.4,3335.3 659.1,3333.7 660.8,3332.6 662.5,3331.4 664.3,3330.9 666.0,3331.7 667.7,3330.7 669.4,3329.5 671.1,3326.0 672.8,3325.6 674.5,3326.4 676.3,3322.8 678.0,3323.8 679.7,3321.5 681.4,3322.6 683.1,3318.7 684.8,3320.0 686.6,3317.6 688.3,3316.0 690.0,3314.5 691.7,3316.0 693.4,3314.0 695.2,3311.9 696.9,3311.6 698.6,3312.0 700.3,3308.9 702.1,3308.9 703.8,3306.6 705.5,3305.6 707.2,3306.4 708.9,3305.1 710.7,3302.5 712.4,3301.1 714.1,3300.1 715.8,3300.6 717.5,3299.3 719.3,3297.5 721.0,3296.3 722.7,3296.5 724.4,3295.7 726.2,3295.0 727.9,3293.3 729.6,3291.1 731.3,3289.7 733.1,3290.7 734.8,3288.7 736.5,3288.7 738.3,3285.7 740.0,3286.9 741.8,3284.5 743.5,3285.0 745.3,3284.1 747.1,3281.9 748.9,3279.5 750.7,3281.2 752.4,3278.9 754.2,3279.1 756.0,3276.2 757.8,3275.0 759.5,3275.9 761.3,3273.6 763.1,3272.0 764.9,3271.6 766.7,3271.3 768.5,3268.6 770.2,3269.1 772.0,3268.0 773.8,3267.2 775.6,3265.1 777.4,3265.9 779.2,3265.3 781.0,3264.5 782.8,3262.0 784.6,3262.3 786.4,3260.4 788.2,3260.6 790.0,3257.7 791.8,3259.2 793.7,3258.6 795.5,3256.4 797.3,3255.6 799.2,3254.8 801.0,3254.0 802.9,3251.6 804.7,3253.6 806.5,3250.6 808.4,3249.6 810.2,3248.6 812.1,3248.2 813.9,3249.1 815.8,3246.0 817.6,3245.4 819.5,3246.5 821.4,3244.2 823.2,3242.9 825.1,3243.9 826.9,3243.1 828.8,3242.2 830.7,3242.1 832.5,3239.6 834.4,3241.2 836.3,3240.0 838.1,3237.3 840.0,3236.9 841.9,3237.3 843.8,3236.6 845.7,3235.3 847.6,3234.2 849.5,3234.4 851.5,3232.9 853.4,3233.6 855.3,3233.8 857.2,3231.0 859.1,3231.7 861.0,3231.6 863.0,3229.2 864.9,3230.6 866.8,3230.4 868.7,3228.1 870.7,3227.7 872.6,3228.4 874.5,3226.9 876.5,3226.0 878.4,3227.1 880.3,3226.1 882.2,3224.3 884.2,3223.5 886.1,3223.4 888.1,3223.2 890.0,3224.4 892.0,3223.5 894.0,3223.4 896.0,3222.8 897.9,3222.5 899.9,3219.8 901.9,3220.8 903.9,3221.8 905.9,3221.4 907.9,3219.1 909.9,3219.3 911.9,3219.7 913.9,3218.6 915.9,3218.9 917.9,3217.3 919.9,3218.1 921.9,3218.1 924.0,3216.5 926.0,3216.6 928.0,3218.9 930.0,3218.2 932.0,3218.5 934.0,3217.4 936.0,3217.8 938.0,3217.8 940.0,3217.7 942.0,3215.0 944.0,3216.6 946.0,3215.4 948.0,3216.5 950.0,3215.2 952.0,3215.9 954.0,3217.0 956.0,3216.0 958.0,3214.8 960.0,3215.6 962.0,3215.2 964.0,3216.8 966.0,3214.7 968.0,3214.7 970.0,3215.7 972.0,3214.1 974.0,3215.5 976.0,3216.6 978.0,3215.2 980.0,3214.5 982.0,3215.0 984.0,3215.2 986.0,3214.0 988.0,3213.9 990.0,3213.9 992.0,3214.3 994.0,3214.6 996.0,3214.3 998.1,3214.1 1000.1,3213.6 1002.1,3214.9 1004.1,3215.8 1006.2,3215.1 1008.2,3214.9 1010.2,3215.2 1012.3,3213.8 1014.3,3215.3 1016.3,3214.5 1018.3,3214.8 1020.4,3215.0 1022.4,3214.5 1024.4,3214.0 1026.4,3213.8 1028.3,3213.7 1030.3,3214.6 1032.3,3214.2 1034.2,3214.8 1036.2,3213.1 1038.1,3214.1 1040.0,3215.6 1042.1,3213.7 1044.1,3214.7 1046.1,3214.5 1048.1,3213.8 1050.0,3215.9 1052.0,3213.9 1053.9,3215.3 1055.8,3213.4 1057.7,3213.2 1059.6,3215.6 1061.5,3214.3 1063.5,3213.2 1065.4,3214.1 1067.4,3214.3 1069.3,3215.2 1071.4,3213.3 1073.4,3213.7 1075.5,3215.9 1077.7,3215.2 1079.9,3213.5 1081.9,3214.0 1083.6,3214.1 1085.4,3215.0 1087.2,3214.8 1089.0,3215.5 1090.9,3215.5 1092.7,3214.6 1094.6,3215.2 1096.5,3215.2 1098.4,3215.3 1100.3,3214.4 1102.2,3215.4 1104.2,3215.1 1106.1,3215.7 1108.1,3213.4 1110.1,3215.6 1112.1,3213.0 1114.1,3215.3 1116.1,3214.8 1118.2,3214.5 1120.2,3215.9 1122.3,3214.7 1124.4,3214.3 1126.4,3215.4 1128.5,3215.6 1130.6,3214.8 1132.8,3214.1 1134.9,3214.4 1137.0,3214.4 1139.2,3215.2 1141.3,3213.9 1143.5,3214.2 1145.6,3214.7 1147.8,3214.2 1150.0,3214.0 1151.8,3215.4 1153.7,3215.5 1155.5,3214.5 1157.4,3214.3 1159.3,3213.6 1161.1,3213.9 1163.0,3213.4 1165.0,3214.7 1166.9,3214.7 1168.8,3213.3 1170.8,3215.8 1172.7,3214.0 1174.7,3215.5 1176.7,3215.5 1178.6,3215.9 1180.6,3213.6 1182.6,3214.3 1184.6,3215.7 1186.6,3213.0 1188.7,3213.1 1190.7,3214.7 1192.7,3214.5 1194.8,3215.8 1196.8,3215.3 1198.8,3214.6 1200.9,3216.0 1202.9,3214.6 1205.0,3214.6 1207.1,3215.1 1209.1,3214.2 1211.2,3214.1 1213.2,3214.8 1215.3,3214.1 1217.4,3215.8 1219.4,3215.0 1221.5,3214.6 1223.5,3213.3 1225.6,3214.1 1227.7,3214.2 1229.7,3214.7 1231.8,3214.7 1233.8,3215.6 1235.8,3215.9 1237.9,3214.5 1239.9,3214.3 1241.9,3214.9 1244.0,3216.0 1246.0,3214.0 1248.0,3214.6 1250.0,3215.4 1252.0,3213.5 1254.0,3214.0 1256.0,3215.9 1258.0,3215.5 1260.0,3214.5 1262.0,3213.3 1264.0,3215.7 1266.0,3215.1 1268.0,3215.5 1270.0,3216.0 1272.0,3215.7 1274.0,3214.3 1276.0,3213.5 1278.0,3213.9 1280.0,3214.5 1282.0,3214.5 1284.0,3213.6 1286.0,3213.5 1288.0,3214.9 1290.0,3214.8 1292.0,3214.1 1294.0,3216.0 1296.0,3214.9 1298.0,3213.1 1300.0,3214.2 1302.0,3215.4 1304.0,3213.9 1306.0,3215.1 1308.0,3213.0 1310.0,3213.9 1312.0,3215.5 1314.0,3214.8 1316.0,3215.0 1318.0,3213.6 1320.0,3214.5 1322.0,3214.7 1324.0,3213.8 1326.0,3214.9 1328.0,3214.6 1330.0,3216.0 1332.0,3214.7 1334.0,3214.2 1336.0,3213.4 1338.0,3213.5 1340.0,3215.3 1342.0,3213.3 1344.0,3213.3 1346.0,3213.5 1348.0,3214.6 1350.0,3215.5 1352.0,3214.8 1354.0,3215.4 1356.0,3213.2 1358.0,3213.0 1360.0,3215.3 1362.0,3214.0 1364.0,3215.1 1366.0,3214.1 1368.0,3213.5 1370.0,3213.8 1372.0,3213.3 1374.0,3215.7 1376.0,3214.7 1378.0,3214.0 1380.0,3214.3 1382.0,3214.2 1384.0,3213.2 1386.0,3215.7 1388.0,3214.7 1390.0,3215.9 1392.0,3214.3 1394.0,3214.9 1396.0,3213.7 1398.0,3213.1 1400.0,3215.8 1402.0,3215.6 1404.0,3213.9 1406.0,3215.7 1408.0,3215.4 1410.0,3213.9 1412.0,3214.8 1414.0,3215.9 1416.0,3214.5 1418.0,3215.8 1420.0,3213.7 1422.0,3214.2 1424.0,3215.2 1426.0,3213.7 1428.0,3213.9 1430.0,3215.6 1432.0,3214.5 1434.0,3215.4 1436.0,3213.7 1438.0,3213.5 1440.0,3214.1 1442.0,3213.6 1444.0,3215.9 1446.0,3213.9 1448.0,3214.7 1450.0,3213.3 1452.0,3214.6 1454.0,3214.2 1456.0,3214.2 1458.1,3213.2 1460.1,3213.4 1462.2,3215.5 1464.2,3214.1 1466.3,3213.7 1468.3,3213.6 1470.4,3213.9 1472.5,3213.7 1474.6,3213.1 1476.6,3215.0 1478.7,3214.0 1480.8,3213.5 1482.9,3215.1 1485.0,3213.3 1487.1,3213.8 1489.1,3215.5 1491.2,3213.4 1493.3,3214.3 1495.4,3215.5 1497.5,3215.4 1499.5,3213.5 1501.6,3214.1 1503.6,3215.2 1505.7,3214.1 1507.8,3215.9 1509.8,3213.6 1511.8,3215.9 1513.9,3214.5 1515.9,3213.7 1517.9,3214.4 1519.9,3213.4 1521.9,3215.1 1523.8,3213.8 1525.8,3215.7 1527.8,3214.8 1529.7,3214.1 1531.6,3213.7 1533.5,3214.8 1535.4,3213.6 1537.3,3215.6 1539.2,3213.4 1541.0,3214.5 1542.9,3214.6 1544.7,3213.8 1546.5,3215.3 1548.2,3214.2 1550.0,3215.0 1552.3,3214.7 1554.5,3213.9 1556.7,3214.2 1559.0,3213.3 1561.2,3213.5 1563.4,3215.6 1565.6,3214.0 1567.8,3215.0 1569.9,3213.3 1572.1,3214.7 1574.2,3214.1 1576.3,3214.5 1578.4,3213.9 1580.5,3213.2 1582.6,3213.9 1584.6,3213.7 1586.6,3213.4 1588.6,3215.2 1590.6,3213.8 1592.5,3214.2 1594.4,3215.7 1596.3,3215.3 1598.1,3215.6 1599.9,3215.6 1601.7,3213.4 1603.4,3213.8 1605.1,3213.1 1606.8,3215.0 1608.4,3215.0 1610.0,3214.1 1612.4,3214.3 1614.7,3215.0 1617.0,3215.2 1619.2,3214.0 1621.3,3215.9 1623.4,3214.4 1625.4,3215.3 1627.3,3214.0 1629.2,3213.8 1630.9,3216.2 1632.6,3215.5 1634.2,3215.3 1636.2,3212.9 1638.4,3212.4 1640.4,3212.2 1642.3,3211.6 1644.1,3211.0 1645.8,3210.1 1647.9,3207.0 1649.9,3205.4 1652.0,3203.7 1654.2,3199.8 1655.7,3200.3 1657.5,3198.0 1659.4,3196.8 1661.5,3193.8 1663.6,3192.7 1665.6,3191.9 1667.3,3189.5 1669.3,3187.0 1670.0,3188.0" fill="none" stroke="#4fa768" stroke-width="2" marker-start="url(#dn)" marker-mid="url(#dn)" marker-end="url(#dn)"/>
<line x1="1079" y1="2912.5" x2="1081.5" y2="3776.5" stroke="#1a1a1a" stroke-width="2" stroke-dasharray="9 5"/>
<polygon points="1075.0,3767.5 1088.0,3767.5 1084.0,3790.5 1084.0,3796.5 1079.0,3796.5 1079.0,3790.5" fill="#000"/>
<line x1="484" y1="3203" x2="1766" y2="3201.5" stroke="#1a1a1a" stroke-width="2" stroke-dasharray="9 5"/>
<polygon points="464,3203 472,3200.5 490,3198 490,3208 472,3205.5" fill="#000"/>
<text x="671.0" y="2867.5" font-size="52" text-anchor="start" font-family='"Liberation Sans", sans-serif' font-weight="normal" >85%</text>
<text x="589.0" y="3151.0" font-size="52" text-anchor="start" font-family='"Liberation Sans", sans-serif' font-weight="normal" >0%</text>
<text x="645.0" y="3606.0" font-size="52" text-anchor="start" font-family='"Liberation Sans", sans-serif' font-weight="normal" >3%</text>
<text x="1263.0" y="3294.5" font-size="52" text-anchor="start" font-family='"Liberation Sans", sans-serif' font-weight="normal" >8%</text>
<text x="1571.0" y="3114.5" font-size="52" text-anchor="start" font-family='"Liberation Sans", sans-serif' font-weight="normal" >4%</text>
<text x="499" y="3161" font-size="43" text-anchor="start" font-family='"Liberation Sans", sans-serif' font-weight="normal" >I</text><text x="510.5" y="3172.5" font-size="28" text-anchor="start" font-family='"Liberation Sans", sans-serif' font-weight="normal" >dir</text>
<text x="1115.5" y="3745" font-size="43" text-anchor="start" font-family='"Liberation Sans", sans-serif' font-weight="normal" >U</text><text x="1148" y="3758" font-size="28" text-anchor="start" font-family='"Liberation Sans", sans-serif' font-weight="normal" >dir</text>
<text x="0" y="0" font-size="108" text-anchor="start" font-family='"Liberation Serif", serif' font-weight="bold" transform="translate(70,3859) scale(0.86,1)">c</text>
</g>
</svg></body></html>
